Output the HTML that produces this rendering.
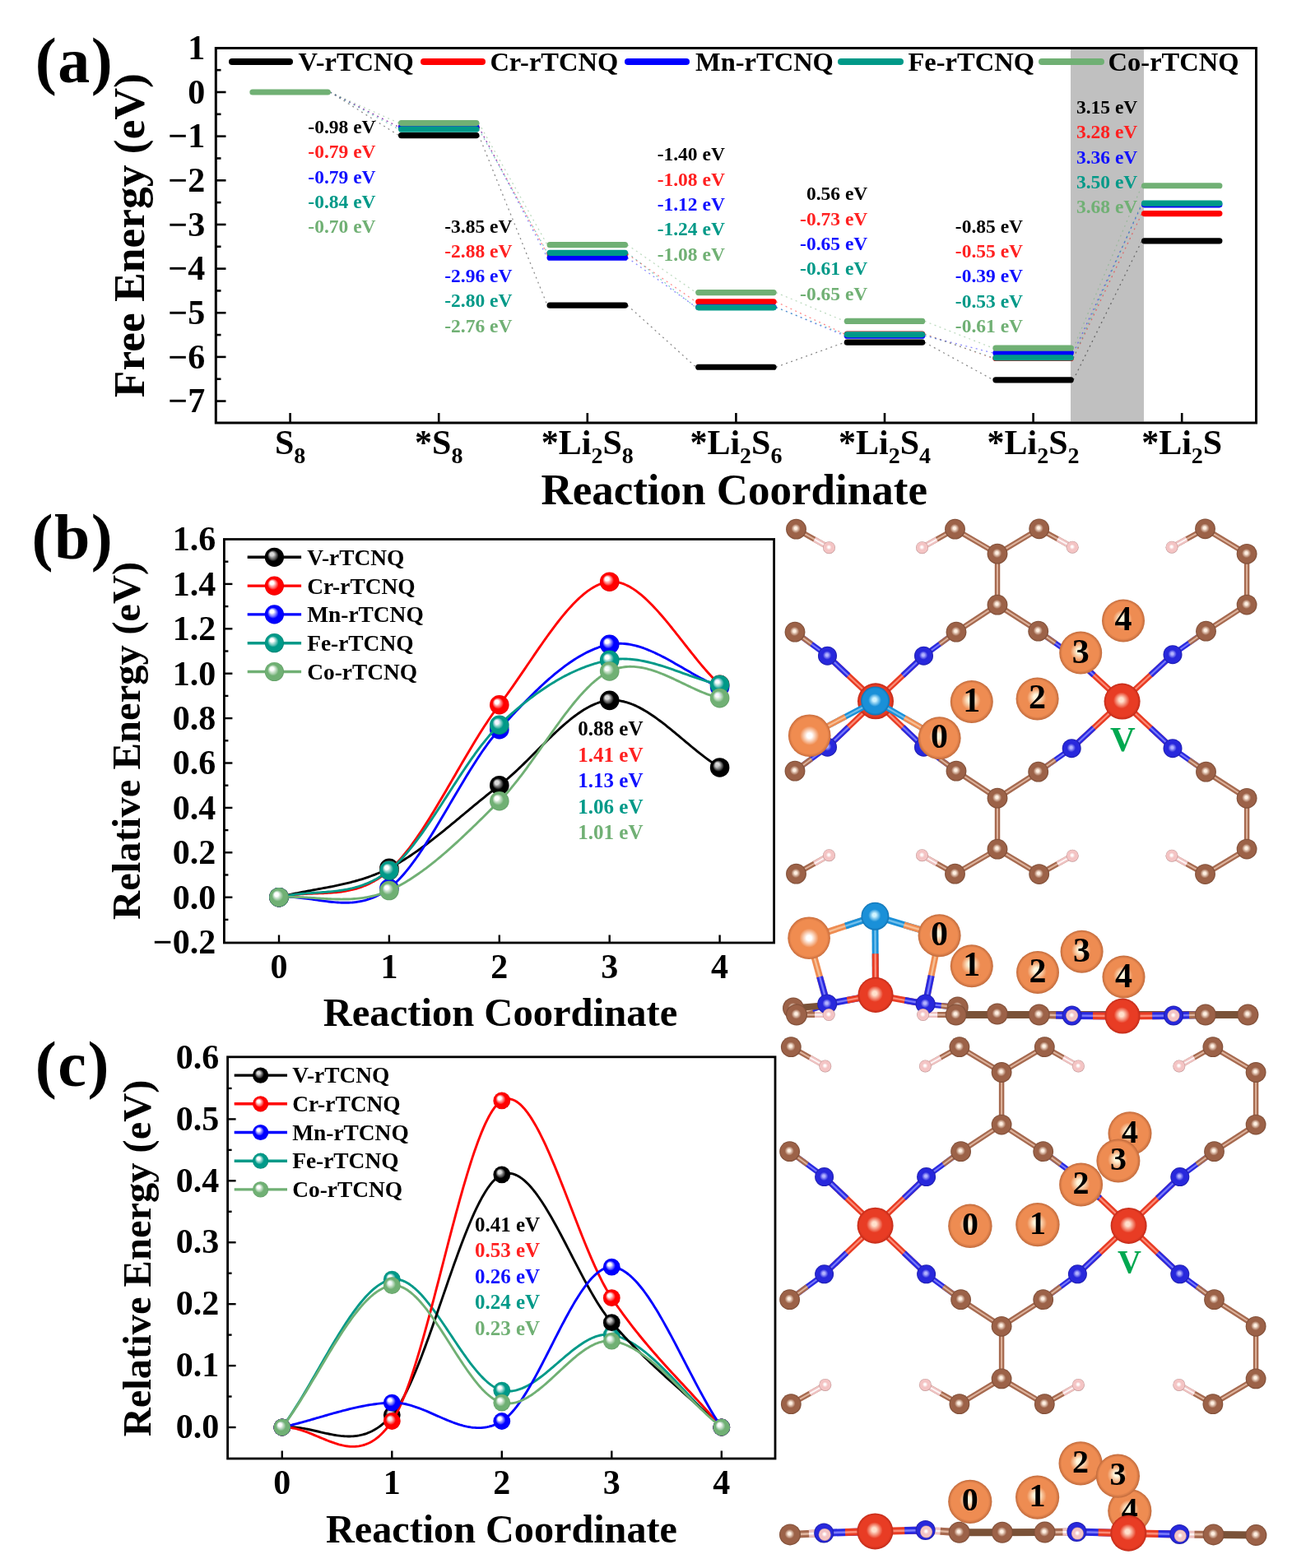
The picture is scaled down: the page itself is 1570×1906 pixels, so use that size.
<!DOCTYPE html><html><head><meta charset="utf-8"><title>Free energy profiles</title><style>html,body{margin:0;padding:0;background:#fff;overflow:hidden}svg{display:block}</style></head><body><svg width="1570" height="1906" viewBox="0 0 1570 1906" font-family="'Liberation Serif','Times New Roman',serif" font-weight="bold"><defs><radialGradient id="ok" cx="0.5" cy="0.5" r="0.5" fx="0.34" fy="0.32"><stop offset="0" stop-color="#d8d8d8"/><stop offset="0.2" stop-color="#d8d8d8" stop-opacity="0.92"/><stop offset="0.58" stop-color="#000000"/><stop offset="0.9" stop-color="#000000"/><stop offset="1" stop-color="#000000"/></radialGradient><radialGradient id="or" cx="0.5" cy="0.5" r="0.5" fx="0.34" fy="0.32"><stop offset="0" stop-color="#ffffff"/><stop offset="0.2" stop-color="#ffffff" stop-opacity="0.92"/><stop offset="0.58" stop-color="#ff0000"/><stop offset="0.9" stop-color="#ff0000"/><stop offset="1" stop-color="#e00000"/></radialGradient><radialGradient id="ob" cx="0.5" cy="0.5" r="0.5" fx="0.34" fy="0.32"><stop offset="0" stop-color="#ffffff"/><stop offset="0.2" stop-color="#ffffff" stop-opacity="0.92"/><stop offset="0.58" stop-color="#0000ff"/><stop offset="0.9" stop-color="#0000ff"/><stop offset="1" stop-color="#0000e0"/></radialGradient><radialGradient id="ot" cx="0.5" cy="0.5" r="0.5" fx="0.34" fy="0.32"><stop offset="0" stop-color="#ffffff"/><stop offset="0.2" stop-color="#ffffff" stop-opacity="0.92"/><stop offset="0.58" stop-color="#009988"/><stop offset="0.9" stop-color="#009988"/><stop offset="1" stop-color="#008070"/></radialGradient><radialGradient id="og" cx="0.5" cy="0.5" r="0.5" fx="0.34" fy="0.32"><stop offset="0" stop-color="#ffffff"/><stop offset="0.2" stop-color="#ffffff" stop-opacity="0.92"/><stop offset="0.58" stop-color="#70b074"/><stop offset="0.9" stop-color="#70b074"/><stop offset="1" stop-color="#609c64"/></radialGradient><radialGradient id="vC" cx="0.5" cy="0.5" r="0.5" fx="0.47" fy="0.45"><stop offset="0" stop-color="#fff0e2"/><stop offset="0.12" stop-color="#fff0e2"/><stop offset="0.45" stop-color="#9c6248"/><stop offset="0.85" stop-color="#9c6248"/><stop offset="1" stop-color="#7a4a34"/></radialGradient><radialGradient id="vN" cx="0.5" cy="0.5" r="0.5" fx="0.47" fy="0.45"><stop offset="0" stop-color="#b4b4ff"/><stop offset="0.12" stop-color="#b4b4ff"/><stop offset="0.45" stop-color="#2828dc"/><stop offset="0.85" stop-color="#2828dc"/><stop offset="1" stop-color="#1c1ca8"/></radialGradient><radialGradient id="vH" cx="0.5" cy="0.5" r="0.5" fx="0.47" fy="0.45"><stop offset="0" stop-color="#ffffff"/><stop offset="0.12" stop-color="#ffffff"/><stop offset="0.45" stop-color="#f4c4c4"/><stop offset="0.85" stop-color="#f4c4c4"/><stop offset="1" stop-color="#b98c8c"/></radialGradient><radialGradient id="vM" cx="0.5" cy="0.5" r="0.5" fx="0.47" fy="0.45"><stop offset="0" stop-color="#ffe0cc"/><stop offset="0.12" stop-color="#ffe0cc"/><stop offset="0.45" stop-color="#e83c24"/><stop offset="0.85" stop-color="#e83c24"/><stop offset="1" stop-color="#c02a18"/></radialGradient><radialGradient id="vL" cx="0.5" cy="0.5" r="0.5" fx="0.47" fy="0.45"><stop offset="0" stop-color="#d0f4ff"/><stop offset="0.12" stop-color="#d0f4ff"/><stop offset="0.45" stop-color="#1a90d8"/><stop offset="0.85" stop-color="#1a90d8"/><stop offset="1" stop-color="#1070b0"/></radialGradient><radialGradient id="vO" cx="0.5" cy="0.5" r="0.5" fx="0.47" fy="0.45"><stop offset="0" stop-color="#fff6dc"/><stop offset="0.12" stop-color="#fff6dc"/><stop offset="0.45" stop-color="#ee8c52"/><stop offset="0.85" stop-color="#ee8c52"/><stop offset="1" stop-color="#c06a3c"/></radialGradient><radialGradient id="vS" cx="0.5" cy="0.5" r="0.5" fx="0.5" fy="0.5"><stop offset="0" stop-color="#ffffff"/><stop offset="0.12" stop-color="#ffffff"/><stop offset="0.45" stop-color="#f08c50"/><stop offset="0.85" stop-color="#f08c50"/><stop offset="1" stop-color="#c86c3c"/></radialGradient></defs><rect width="1570" height="1906" fill="#ffffff"/><rect x="1301" y="60" width="89" height="452.5" fill="#c0c0c0"/>
<rect x="262.3" y="58.5" width="1264.2" height="455.5" fill="none" stroke="#000" stroke-width="3"/>
<line x1="262.3" y1="85.17" x2="268.5" y2="85.17" stroke="#000" stroke-width="2.6"/>
<text x="249.2" y="71.95" font-size="42" fill="#000" text-anchor="end">1</text>
<line x1="262.3" y1="112" x2="274.5" y2="112" stroke="#000" stroke-width="2.6"/>
<line x1="262.3" y1="138.82" x2="268.5" y2="138.82" stroke="#000" stroke-width="2.6"/>
<text x="249.2" y="125.6" font-size="42" fill="#000" text-anchor="end">0</text>
<line x1="262.3" y1="165.65" x2="274.5" y2="165.65" stroke="#000" stroke-width="2.6"/>
<line x1="262.3" y1="192.47" x2="268.5" y2="192.47" stroke="#000" stroke-width="2.6"/>
<text x="249.2" y="179.25" font-size="42" fill="#000" text-anchor="end">−1</text>
<line x1="262.3" y1="219.3" x2="274.5" y2="219.3" stroke="#000" stroke-width="2.6"/>
<line x1="262.3" y1="246.12" x2="268.5" y2="246.12" stroke="#000" stroke-width="2.6"/>
<text x="249.2" y="232.9" font-size="42" fill="#000" text-anchor="end">−2</text>
<line x1="262.3" y1="272.95" x2="274.5" y2="272.95" stroke="#000" stroke-width="2.6"/>
<line x1="262.3" y1="299.77" x2="268.5" y2="299.77" stroke="#000" stroke-width="2.6"/>
<text x="249.2" y="286.55" font-size="42" fill="#000" text-anchor="end">−3</text>
<line x1="262.3" y1="326.6" x2="274.5" y2="326.6" stroke="#000" stroke-width="2.6"/>
<line x1="262.3" y1="353.42" x2="268.5" y2="353.42" stroke="#000" stroke-width="2.6"/>
<text x="249.2" y="340.2" font-size="42" fill="#000" text-anchor="end">−4</text>
<line x1="262.3" y1="380.25" x2="274.5" y2="380.25" stroke="#000" stroke-width="2.6"/>
<line x1="262.3" y1="407.07" x2="268.5" y2="407.07" stroke="#000" stroke-width="2.6"/>
<text x="249.2" y="393.85" font-size="42" fill="#000" text-anchor="end">−5</text>
<line x1="262.3" y1="433.9" x2="274.5" y2="433.9" stroke="#000" stroke-width="2.6"/>
<line x1="262.3" y1="460.72" x2="268.5" y2="460.72" stroke="#000" stroke-width="2.6"/>
<text x="249.2" y="447.5" font-size="42" fill="#000" text-anchor="end">−6</text>
<line x1="262.3" y1="487.55" x2="274.5" y2="487.55" stroke="#000" stroke-width="2.6"/>
<text x="249.2" y="501.15" font-size="42" fill="#000" text-anchor="end">−7</text>
<line x1="352.6" y1="514" x2="352.6" y2="502" stroke="#000" stroke-width="2.6"/>
<line x1="533.2" y1="514" x2="533.2" y2="502" stroke="#000" stroke-width="2.6"/>
<line x1="713.8" y1="514" x2="713.8" y2="502" stroke="#000" stroke-width="2.6"/>
<line x1="894.4" y1="514" x2="894.4" y2="502" stroke="#000" stroke-width="2.6"/>
<line x1="1075" y1="514" x2="1075" y2="502" stroke="#000" stroke-width="2.6"/>
<line x1="1255.6" y1="514" x2="1255.6" y2="502" stroke="#000" stroke-width="2.6"/>
<line x1="1436.2" y1="514" x2="1436.2" y2="502" stroke="#000" stroke-width="2.6"/>
<text x="352.6" y="552" font-size="42" text-anchor="middle"><tspan>S</tspan><tspan font-size="28" dy="10.5">8</tspan></text>
<text x="533.2" y="552" font-size="42" text-anchor="middle"><tspan>*S</tspan><tspan font-size="28" dy="10.5">8</tspan></text>
<text x="713.8" y="552" font-size="42" text-anchor="middle"><tspan>*Li</tspan><tspan font-size="28" dy="10.5">2</tspan><tspan dy="-10.5">S</tspan><tspan font-size="28" dy="10.5">8</tspan></text>
<text x="894.4" y="552" font-size="42" text-anchor="middle"><tspan>*Li</tspan><tspan font-size="28" dy="10.5">2</tspan><tspan dy="-10.5">S</tspan><tspan font-size="28" dy="10.5">6</tspan></text>
<text x="1075" y="552" font-size="42" text-anchor="middle"><tspan>*Li</tspan><tspan font-size="28" dy="10.5">2</tspan><tspan dy="-10.5">S</tspan><tspan font-size="28" dy="10.5">4</tspan></text>
<text x="1255.6" y="552" font-size="42" text-anchor="middle"><tspan>*Li</tspan><tspan font-size="28" dy="10.5">2</tspan><tspan dy="-10.5">S</tspan><tspan font-size="28" dy="10.5">2</tspan></text>
<text x="1436.2" y="552" font-size="42" text-anchor="middle"><tspan>*Li</tspan><tspan font-size="28" dy="10.5">2</tspan><tspan dy="-10.5">S</tspan></text>
<text x="657.4" y="612.5" font-size="53" fill="#000" text-anchor="start">Reaction Coordinate</text>
<text transform="translate(175.3,483.3) rotate(-90)" x="0" y="0" font-size="53.5">Free Energy (eV)</text>
<text x="42.8" y="100.3" font-size="78" fill="#000" text-anchor="start" letter-spacing="1.5">(a)</text>
<line x1="401.25" y1="112" x2="484.55" y2="164.58" stroke="#000000" stroke-width="1.3" stroke-dasharray="2 4.4" opacity="0.45"/>
<line x1="581.85" y1="164.58" x2="665.15" y2="371.13" stroke="#000000" stroke-width="1.3" stroke-dasharray="2 4.4" opacity="0.45"/>
<line x1="762.45" y1="371.13" x2="845.75" y2="446.24" stroke="#000000" stroke-width="1.3" stroke-dasharray="2 4.4" opacity="0.45"/>
<line x1="943.05" y1="446.24" x2="1026.35" y2="416.2" stroke="#000000" stroke-width="1.3" stroke-dasharray="2 4.4" opacity="0.45"/>
<line x1="1123.65" y1="416.2" x2="1206.95" y2="461.8" stroke="#000000" stroke-width="1.3" stroke-dasharray="2 4.4" opacity="0.45"/>
<line x1="1304.25" y1="461.8" x2="1387.55" y2="292.8" stroke="#000000" stroke-width="1.3" stroke-dasharray="2 4.4" opacity="0.45"/>
<line x1="401.25" y1="112" x2="484.55" y2="154.38" stroke="#ff0000" stroke-width="1.3" stroke-dasharray="2 4.4" opacity="0.45"/>
<line x1="581.85" y1="154.38" x2="665.15" y2="308.9" stroke="#ff0000" stroke-width="1.3" stroke-dasharray="2 4.4" opacity="0.45"/>
<line x1="762.45" y1="308.9" x2="845.75" y2="366.84" stroke="#ff0000" stroke-width="1.3" stroke-dasharray="2 4.4" opacity="0.45"/>
<line x1="943.05" y1="366.84" x2="1026.35" y2="406" stroke="#ff0000" stroke-width="1.3" stroke-dasharray="2 4.4" opacity="0.45"/>
<line x1="1123.65" y1="406" x2="1206.95" y2="435.51" stroke="#ff0000" stroke-width="1.3" stroke-dasharray="2 4.4" opacity="0.45"/>
<line x1="1304.25" y1="435.51" x2="1387.55" y2="259.54" stroke="#ff0000" stroke-width="1.3" stroke-dasharray="2 4.4" opacity="0.45"/>
<line x1="401.25" y1="112" x2="484.55" y2="154.38" stroke="#0000ff" stroke-width="1.3" stroke-dasharray="2 4.4" opacity="0.45"/>
<line x1="581.85" y1="154.38" x2="665.15" y2="313.19" stroke="#0000ff" stroke-width="1.3" stroke-dasharray="2 4.4" opacity="0.45"/>
<line x1="762.45" y1="313.19" x2="845.75" y2="373.28" stroke="#0000ff" stroke-width="1.3" stroke-dasharray="2 4.4" opacity="0.45"/>
<line x1="943.05" y1="373.28" x2="1026.35" y2="408.15" stroke="#0000ff" stroke-width="1.3" stroke-dasharray="2 4.4" opacity="0.45"/>
<line x1="1123.65" y1="408.15" x2="1206.95" y2="429.07" stroke="#0000ff" stroke-width="1.3" stroke-dasharray="2 4.4" opacity="0.45"/>
<line x1="1304.25" y1="429.07" x2="1387.55" y2="248.81" stroke="#0000ff" stroke-width="1.3" stroke-dasharray="2 4.4" opacity="0.45"/>
<line x1="401.25" y1="112" x2="484.55" y2="157.07" stroke="#009988" stroke-width="1.3" stroke-dasharray="2 4.4" opacity="0.45"/>
<line x1="581.85" y1="157.07" x2="665.15" y2="307.29" stroke="#009988" stroke-width="1.3" stroke-dasharray="2 4.4" opacity="0.45"/>
<line x1="762.45" y1="307.29" x2="845.75" y2="373.81" stroke="#009988" stroke-width="1.3" stroke-dasharray="2 4.4" opacity="0.45"/>
<line x1="943.05" y1="373.81" x2="1026.35" y2="406.54" stroke="#009988" stroke-width="1.3" stroke-dasharray="2 4.4" opacity="0.45"/>
<line x1="1123.65" y1="406.54" x2="1206.95" y2="434.97" stroke="#009988" stroke-width="1.3" stroke-dasharray="2 4.4" opacity="0.45"/>
<line x1="1304.25" y1="434.97" x2="1387.55" y2="247.2" stroke="#009988" stroke-width="1.3" stroke-dasharray="2 4.4" opacity="0.45"/>
<line x1="401.25" y1="112" x2="484.55" y2="149.56" stroke="#70b074" stroke-width="1.3" stroke-dasharray="2 4.4" opacity="0.45"/>
<line x1="581.85" y1="149.56" x2="665.15" y2="297.63" stroke="#70b074" stroke-width="1.3" stroke-dasharray="2 4.4" opacity="0.45"/>
<line x1="762.45" y1="297.63" x2="845.75" y2="355.57" stroke="#70b074" stroke-width="1.3" stroke-dasharray="2 4.4" opacity="0.45"/>
<line x1="943.05" y1="355.57" x2="1026.35" y2="390.44" stroke="#70b074" stroke-width="1.3" stroke-dasharray="2 4.4" opacity="0.45"/>
<line x1="1123.65" y1="390.44" x2="1206.95" y2="423.17" stroke="#70b074" stroke-width="1.3" stroke-dasharray="2 4.4" opacity="0.45"/>
<line x1="1304.25" y1="423.17" x2="1387.55" y2="225.74" stroke="#70b074" stroke-width="1.3" stroke-dasharray="2 4.4" opacity="0.45"/>
<line x1="487.55" y1="164.58" x2="578.85" y2="164.58" stroke="#000000" stroke-width="7.2" stroke-linecap="round"/>
<line x1="668.15" y1="371.13" x2="759.45" y2="371.13" stroke="#000000" stroke-width="7.2" stroke-linecap="round"/>
<line x1="848.75" y1="446.24" x2="940.05" y2="446.24" stroke="#000000" stroke-width="7.2" stroke-linecap="round"/>
<line x1="1029.35" y1="416.2" x2="1120.65" y2="416.2" stroke="#000000" stroke-width="7.2" stroke-linecap="round"/>
<line x1="1209.95" y1="461.8" x2="1301.25" y2="461.8" stroke="#000000" stroke-width="7.2" stroke-linecap="round"/>
<line x1="1390.55" y1="292.8" x2="1481.85" y2="292.8" stroke="#000000" stroke-width="7.2" stroke-linecap="round"/>
<line x1="487.55" y1="154.38" x2="578.85" y2="154.38" stroke="#ff0000" stroke-width="7.2" stroke-linecap="round"/>
<line x1="668.15" y1="308.9" x2="759.45" y2="308.9" stroke="#ff0000" stroke-width="7.2" stroke-linecap="round"/>
<line x1="848.75" y1="366.84" x2="940.05" y2="366.84" stroke="#ff0000" stroke-width="7.2" stroke-linecap="round"/>
<line x1="1029.35" y1="406" x2="1120.65" y2="406" stroke="#ff0000" stroke-width="7.2" stroke-linecap="round"/>
<line x1="1209.95" y1="435.51" x2="1301.25" y2="435.51" stroke="#ff0000" stroke-width="7.2" stroke-linecap="round"/>
<line x1="1390.55" y1="259.54" x2="1481.85" y2="259.54" stroke="#ff0000" stroke-width="7.2" stroke-linecap="round"/>
<line x1="487.55" y1="154.38" x2="578.85" y2="154.38" stroke="#0000ff" stroke-width="7.2" stroke-linecap="round"/>
<line x1="668.15" y1="313.19" x2="759.45" y2="313.19" stroke="#0000ff" stroke-width="7.2" stroke-linecap="round"/>
<line x1="848.75" y1="373.28" x2="940.05" y2="373.28" stroke="#0000ff" stroke-width="7.2" stroke-linecap="round"/>
<line x1="1029.35" y1="408.15" x2="1120.65" y2="408.15" stroke="#0000ff" stroke-width="7.2" stroke-linecap="round"/>
<line x1="1209.95" y1="429.07" x2="1301.25" y2="429.07" stroke="#0000ff" stroke-width="7.2" stroke-linecap="round"/>
<line x1="1390.55" y1="248.81" x2="1481.85" y2="248.81" stroke="#0000ff" stroke-width="7.2" stroke-linecap="round"/>
<line x1="487.55" y1="157.07" x2="578.85" y2="157.07" stroke="#009988" stroke-width="7.2" stroke-linecap="round"/>
<line x1="668.15" y1="307.29" x2="759.45" y2="307.29" stroke="#009988" stroke-width="7.2" stroke-linecap="round"/>
<line x1="848.75" y1="373.81" x2="940.05" y2="373.81" stroke="#009988" stroke-width="7.2" stroke-linecap="round"/>
<line x1="1029.35" y1="406.54" x2="1120.65" y2="406.54" stroke="#009988" stroke-width="7.2" stroke-linecap="round"/>
<line x1="1209.95" y1="434.97" x2="1301.25" y2="434.97" stroke="#009988" stroke-width="7.2" stroke-linecap="round"/>
<line x1="1390.55" y1="247.2" x2="1481.85" y2="247.2" stroke="#009988" stroke-width="7.2" stroke-linecap="round"/>
<line x1="306.95" y1="112" x2="398.25" y2="112" stroke="#70b074" stroke-width="7.2" stroke-linecap="round"/>
<line x1="487.55" y1="149.56" x2="578.85" y2="149.56" stroke="#70b074" stroke-width="7.2" stroke-linecap="round"/>
<line x1="668.15" y1="297.63" x2="759.45" y2="297.63" stroke="#70b074" stroke-width="7.2" stroke-linecap="round"/>
<line x1="848.75" y1="355.57" x2="940.05" y2="355.57" stroke="#70b074" stroke-width="7.2" stroke-linecap="round"/>
<line x1="1029.35" y1="390.44" x2="1120.65" y2="390.44" stroke="#70b074" stroke-width="7.2" stroke-linecap="round"/>
<line x1="1209.95" y1="423.17" x2="1301.25" y2="423.17" stroke="#70b074" stroke-width="7.2" stroke-linecap="round"/>
<line x1="1390.55" y1="225.74" x2="1481.85" y2="225.74" stroke="#70b074" stroke-width="7.2" stroke-linecap="round"/>
<line x1="282" y1="75" x2="352" y2="75" stroke="#000000" stroke-width="8" stroke-linecap="round"/>
<text x="362.6" y="86.4" font-size="32.5" fill="#000" text-anchor="start">V-rTCNQ</text>
<line x1="515" y1="75" x2="586" y2="75" stroke="#ff0000" stroke-width="8" stroke-linecap="round"/>
<text x="595.4" y="86.4" font-size="32.5" fill="#000" text-anchor="start">Cr-rTCNQ</text>
<line x1="763" y1="75" x2="834" y2="75" stroke="#0000ff" stroke-width="8" stroke-linecap="round"/>
<text x="845" y="86.4" font-size="32.5" fill="#000" text-anchor="start">Mn-rTCNQ</text>
<line x1="1022" y1="75" x2="1094" y2="75" stroke="#009988" stroke-width="8" stroke-linecap="round"/>
<text x="1103.5" y="86.4" font-size="32.5" fill="#000" text-anchor="start">Fe-rTCNQ</text>
<line x1="1266" y1="75" x2="1338" y2="75" stroke="#70b074" stroke-width="8" stroke-linecap="round"/>
<text x="1346.6" y="86.4" font-size="32.5" fill="#000" text-anchor="start">Co-rTCNQ</text>
<text x="456.6" y="162.1" font-size="23.5" fill="#000000" text-anchor="end">-0.98 eV</text>
<text x="456.6" y="192.4" font-size="23.5" fill="#ff2020" text-anchor="end">-0.79 eV</text>
<text x="456.6" y="222.7" font-size="23.5" fill="#1010ff" text-anchor="end">-0.79 eV</text>
<text x="456.6" y="253" font-size="23.5" fill="#009988" text-anchor="end">-0.84 eV</text>
<text x="456.6" y="283.3" font-size="23.5" fill="#70b074" text-anchor="end">-0.70 eV</text>
<text x="622.5" y="282.5" font-size="23.5" fill="#000000" text-anchor="end">-3.85 eV</text>
<text x="622.5" y="312.8" font-size="23.5" fill="#ff2020" text-anchor="end">-2.88 eV</text>
<text x="622.5" y="343.1" font-size="23.5" fill="#1010ff" text-anchor="end">-2.96 eV</text>
<text x="622.5" y="373.4" font-size="23.5" fill="#009988" text-anchor="end">-2.80 eV</text>
<text x="622.5" y="403.7" font-size="23.5" fill="#70b074" text-anchor="end">-2.76 eV</text>
<text x="880.9" y="195.4" font-size="23.5" fill="#000000" text-anchor="end">-1.40 eV</text>
<text x="880.9" y="225.7" font-size="23.5" fill="#ff2020" text-anchor="end">-1.08 eV</text>
<text x="880.9" y="256" font-size="23.5" fill="#1010ff" text-anchor="end">-1.12 eV</text>
<text x="880.9" y="286.3" font-size="23.5" fill="#009988" text-anchor="end">-1.24 eV</text>
<text x="880.9" y="316.6" font-size="23.5" fill="#70b074" text-anchor="end">-1.08 eV</text>
<text x="1054.3" y="243.4" font-size="23.5" fill="#000000" text-anchor="end">0.56 eV</text>
<text x="1054.3" y="273.7" font-size="23.5" fill="#ff2020" text-anchor="end">-0.73 eV</text>
<text x="1054.3" y="304" font-size="23.5" fill="#1010ff" text-anchor="end">-0.65 eV</text>
<text x="1054.3" y="334.3" font-size="23.5" fill="#009988" text-anchor="end">-0.61 eV</text>
<text x="1054.3" y="364.6" font-size="23.5" fill="#70b074" text-anchor="end">-0.65 eV</text>
<text x="1243.1" y="282.6" font-size="23.5" fill="#000000" text-anchor="end">-0.85 eV</text>
<text x="1243.1" y="312.9" font-size="23.5" fill="#ff2020" text-anchor="end">-0.55 eV</text>
<text x="1243.1" y="343.2" font-size="23.5" fill="#1010ff" text-anchor="end">-0.39 eV</text>
<text x="1243.1" y="373.5" font-size="23.5" fill="#009988" text-anchor="end">-0.53 eV</text>
<text x="1243.1" y="403.8" font-size="23.5" fill="#70b074" text-anchor="end">-0.61 eV</text>
<text x="1382.3" y="138" font-size="23.5" fill="#000000" text-anchor="end">3.15 eV</text>
<text x="1382.3" y="168.3" font-size="23.5" fill="#ff2020" text-anchor="end">3.28 eV</text>
<text x="1382.3" y="198.6" font-size="23.5" fill="#1010ff" text-anchor="end">3.36 eV</text>
<text x="1382.3" y="228.9" font-size="23.5" fill="#009988" text-anchor="end">3.50 eV</text>
<text x="1382.3" y="259.2" font-size="23.5" fill="#70b074" text-anchor="end">3.68 eV</text>
<rect x="272.4" y="655.5" width="668.2" height="490.5" fill="none" stroke="#000" stroke-width="2.8"/>
<text x="262.2" y="669.3" font-size="42" fill="#000" text-anchor="end">1.6</text>
<line x1="272.4" y1="682.7" x2="277.4" y2="682.7" stroke="#000" stroke-width="2.4"/>
<line x1="272.4" y1="709.9" x2="282.4" y2="709.9" stroke="#000" stroke-width="2.4"/>
<text x="262.2" y="723.7" font-size="42" fill="#000" text-anchor="end">1.4</text>
<line x1="272.4" y1="737.1" x2="277.4" y2="737.1" stroke="#000" stroke-width="2.4"/>
<line x1="272.4" y1="764.3" x2="282.4" y2="764.3" stroke="#000" stroke-width="2.4"/>
<text x="262.2" y="778.1" font-size="42" fill="#000" text-anchor="end">1.2</text>
<line x1="272.4" y1="791.5" x2="277.4" y2="791.5" stroke="#000" stroke-width="2.4"/>
<line x1="272.4" y1="818.7" x2="282.4" y2="818.7" stroke="#000" stroke-width="2.4"/>
<text x="262.2" y="832.5" font-size="42" fill="#000" text-anchor="end">1.0</text>
<line x1="272.4" y1="845.9" x2="277.4" y2="845.9" stroke="#000" stroke-width="2.4"/>
<line x1="272.4" y1="873.1" x2="282.4" y2="873.1" stroke="#000" stroke-width="2.4"/>
<text x="262.2" y="886.9" font-size="42" fill="#000" text-anchor="end">0.8</text>
<line x1="272.4" y1="900.3" x2="277.4" y2="900.3" stroke="#000" stroke-width="2.4"/>
<line x1="272.4" y1="927.5" x2="282.4" y2="927.5" stroke="#000" stroke-width="2.4"/>
<text x="262.2" y="941.3" font-size="42" fill="#000" text-anchor="end">0.6</text>
<line x1="272.4" y1="954.7" x2="277.4" y2="954.7" stroke="#000" stroke-width="2.4"/>
<line x1="272.4" y1="981.9" x2="282.4" y2="981.9" stroke="#000" stroke-width="2.4"/>
<text x="262.2" y="995.7" font-size="42" fill="#000" text-anchor="end">0.4</text>
<line x1="272.4" y1="1009.1" x2="277.4" y2="1009.1" stroke="#000" stroke-width="2.4"/>
<line x1="272.4" y1="1036.3" x2="282.4" y2="1036.3" stroke="#000" stroke-width="2.4"/>
<text x="262.2" y="1050.1" font-size="42" fill="#000" text-anchor="end">0.2</text>
<line x1="272.4" y1="1063.5" x2="277.4" y2="1063.5" stroke="#000" stroke-width="2.4"/>
<line x1="272.4" y1="1090.7" x2="282.4" y2="1090.7" stroke="#000" stroke-width="2.4"/>
<text x="262.2" y="1104.5" font-size="42" fill="#000" text-anchor="end">0.0</text>
<line x1="272.4" y1="1117.9" x2="277.4" y2="1117.9" stroke="#000" stroke-width="2.4"/>
<text x="262.2" y="1158.9" font-size="42" fill="#000" text-anchor="end">−0.2</text>
<line x1="339" y1="1146" x2="339" y2="1136.5" stroke="#000" stroke-width="2.4"/>
<text x="339" y="1189.3" font-size="42" fill="#000" text-anchor="middle">0</text>
<line x1="472.9" y1="1146" x2="472.9" y2="1136.5" stroke="#000" stroke-width="2.4"/>
<text x="472.9" y="1189.3" font-size="42" fill="#000" text-anchor="middle">1</text>
<line x1="606.8" y1="1146" x2="606.8" y2="1136.5" stroke="#000" stroke-width="2.4"/>
<text x="606.8" y="1189.3" font-size="42" fill="#000" text-anchor="middle">2</text>
<line x1="740.7" y1="1146" x2="740.7" y2="1136.5" stroke="#000" stroke-width="2.4"/>
<text x="740.7" y="1189.3" font-size="42" fill="#000" text-anchor="middle">3</text>
<line x1="874.6" y1="1146" x2="874.6" y2="1136.5" stroke="#000" stroke-width="2.4"/>
<text x="874.6" y="1189.3" font-size="42" fill="#000" text-anchor="middle">4</text>
<text x="392.7" y="1246.6" font-size="48.6" fill="#000" text-anchor="start">Reaction Coordinate</text>
<text transform="translate(170.4,1118) rotate(-90)" x="0" y="0" font-size="48.7">Relative Energy (eV)</text>
<text x="38.5" y="678.5" font-size="78" fill="#000" text-anchor="start" letter-spacing="1.5">(b)</text>
<path d="M339,1090.7 L341.23,1090.12 L343.46,1089.56 L345.69,1089.01 L347.93,1088.48 L350.16,1087.96 L352.39,1087.46 L354.62,1086.97 L356.85,1086.49 L359.08,1086.02 L361.32,1085.56 L363.55,1085.11 L365.78,1084.67 L368.01,1084.24 L370.24,1083.81 L372.48,1083.39 L374.71,1082.97 L376.94,1082.56 L379.17,1082.15 L381.4,1081.74 L383.63,1081.33 L385.87,1080.92 L388.1,1080.51 L390.33,1080.1 L392.56,1079.69 L394.79,1079.27 L397.02,1078.85 L399.25,1078.42 L401.49,1077.99 L403.72,1077.55 L405.95,1077.1 L408.18,1076.64 L410.41,1076.17 L412.64,1075.7 L414.88,1075.2 L417.11,1074.7 L419.34,1074.18 L421.57,1073.65 L423.8,1073.11 L426.03,1072.54 L428.27,1071.96 L430.5,1071.36 L432.73,1070.75 L434.96,1070.11 L437.19,1069.45 L439.42,1068.77 L441.66,1068.07 L443.89,1067.34 L446.12,1066.59 L448.35,1065.81 L450.58,1065.01 L452.81,1064.18 L455.05,1063.32 L457.28,1062.44 L459.51,1061.52 L461.74,1060.57 L463.97,1059.59 L466.2,1058.58 L468.44,1057.54 L470.67,1056.46 L472.9,1055.34 L475.13,1054.19 L477.36,1053 L479.59,1051.78 L481.83,1050.53 L484.06,1049.25 L486.29,1047.93 L488.52,1046.59 L490.75,1045.21 L492.98,1043.81 L495.22,1042.38 L497.45,1040.92 L499.68,1039.43 L501.91,1037.92 L504.14,1036.39 L506.38,1034.83 L508.61,1033.25 L510.84,1031.65 L513.07,1030.03 L515.3,1028.39 L517.53,1026.73 L519.76,1025.05 L522,1023.35 L524.23,1021.64 L526.46,1019.91 L528.69,1018.17 L530.92,1016.42 L533.15,1014.65 L535.39,1012.87 L537.62,1011.07 L539.85,1009.27 L542.08,1007.46 L544.31,1005.64 L546.54,1003.81 L548.78,1001.97 L551.01,1000.13 L553.24,998.29 L555.47,996.43 L557.7,994.58 L559.93,992.72 L562.17,990.87 L564.4,989.01 L566.63,987.15 L568.86,985.29 L571.09,983.43 L573.32,981.58 L575.56,979.73 L577.79,977.89 L580.02,976.05 L582.25,974.21 L584.48,972.39 L586.71,970.57 L588.95,968.76 L591.18,966.96 L593.41,965.17 L595.64,963.39 L597.87,961.62 L600.1,959.87 L602.34,958.13 L604.57,956.41 L606.8,954.7 L609.03,952.97 L611.26,951.2 L613.5,949.37 L615.73,947.5 L617.96,945.59 L620.19,943.64 L622.42,941.65 L624.65,939.63 L626.88,937.57 L629.12,935.49 L631.35,933.38 L633.58,931.24 L635.81,929.09 L638.04,926.91 L640.27,924.72 L642.51,922.51 L644.74,920.29 L646.97,918.07 L649.2,915.83 L651.43,913.6 L653.66,911.36 L655.9,909.13 L658.13,906.9 L660.36,904.67 L662.59,902.46 L664.82,900.26 L667.05,898.07 L669.29,895.9 L671.52,893.76 L673.75,891.63 L675.98,889.53 L678.21,887.46 L680.45,885.41 L682.68,883.41 L684.91,881.43 L687.14,879.5 L689.37,877.6 L691.6,875.75 L693.84,873.95 L696.07,872.19 L698.3,870.49 L700.53,868.84 L702.76,867.25 L704.99,865.71 L707.23,864.24 L709.46,862.83 L711.69,861.49 L713.92,860.22 L716.15,859.02 L718.38,857.89 L720.62,856.85 L722.85,855.88 L725.08,855 L727.31,854.2 L729.54,853.49 L731.77,852.87 L734,852.34 L736.24,851.91 L738.47,851.57 L740.7,851.34 L742.97,851.21 L745.24,851.18 L747.51,851.25 L749.78,851.42 L752.05,851.69 L754.32,852.05 L756.59,852.5 L758.86,853.03 L761.13,853.66 L763.39,854.36 L765.66,855.14 L767.93,856 L770.2,856.93 L772.47,857.94 L774.74,859.01 L777.01,860.15 L779.28,861.35 L781.55,862.61 L783.82,863.93 L786.09,865.3 L788.36,866.73 L790.63,868.21 L792.9,869.73 L795.17,871.29 L797.44,872.9 L799.71,874.55 L801.98,876.23 L804.25,877.95 L806.52,879.7 L808.78,881.47 L811.05,883.27 L813.32,885.09 L815.59,886.94 L817.86,888.8 L820.13,890.67 L822.4,892.55 L824.67,894.45 L826.94,896.35 L829.21,898.25 L831.48,900.16 L833.75,902.06 L836.02,903.96 L838.29,905.85 L840.56,907.74 L842.83,909.61 L845.1,911.46 L847.37,913.3 L849.64,915.11 L851.91,916.9 L854.17,918.67 L856.44,920.41 L858.71,922.11 L860.98,923.78 L863.25,925.42 L865.52,927.01 L867.79,928.56 L870.06,930.07 L872.33,931.53 L874.6,932.94" fill="none" stroke="#000000" stroke-width="2.9" stroke-linejoin="round"/>
<circle cx="339" cy="1090.7" r="11.8" fill="url(#ok)"/>
<circle cx="472.9" cy="1055.34" r="11.8" fill="url(#ok)"/>
<circle cx="606.8" cy="954.7" r="11.8" fill="url(#ok)"/>
<circle cx="740.7" cy="851.34" r="11.8" fill="url(#ok)"/>
<circle cx="874.6" cy="932.94" r="11.8" fill="url(#ok)"/>
<path d="M339,1090.7 L341.23,1090.18 L343.46,1089.7 L345.69,1089.27 L347.93,1088.87 L350.16,1088.52 L352.39,1088.19 L354.62,1087.91 L356.85,1087.65 L359.08,1087.42 L361.32,1087.21 L363.55,1087.03 L365.78,1086.87 L368.01,1086.73 L370.24,1086.6 L372.48,1086.49 L374.71,1086.39 L376.94,1086.3 L379.17,1086.22 L381.4,1086.14 L383.63,1086.07 L385.87,1085.99 L388.1,1085.91 L390.33,1085.83 L392.56,1085.74 L394.79,1085.64 L397.02,1085.53 L399.25,1085.4 L401.49,1085.26 L403.72,1085.1 L405.95,1084.92 L408.18,1084.72 L410.41,1084.48 L412.64,1084.23 L414.88,1083.94 L417.11,1083.62 L419.34,1083.26 L421.57,1082.86 L423.8,1082.43 L426.03,1081.95 L428.27,1081.43 L430.5,1080.86 L432.73,1080.25 L434.96,1079.58 L437.19,1078.86 L439.42,1078.08 L441.66,1077.24 L443.89,1076.34 L446.12,1075.38 L448.35,1074.35 L450.58,1073.26 L452.81,1072.09 L455.05,1070.86 L457.28,1069.54 L459.51,1068.15 L461.74,1066.68 L463.97,1065.13 L466.2,1063.5 L468.44,1061.77 L470.67,1059.96 L472.9,1058.06 L475.13,1056.06 L477.36,1053.95 L479.59,1051.74 L481.83,1049.43 L484.06,1047.03 L486.29,1044.53 L488.52,1041.94 L490.75,1039.27 L492.98,1036.51 L495.22,1033.67 L497.45,1030.76 L499.68,1027.77 L501.91,1024.71 L504.14,1021.58 L506.38,1018.39 L508.61,1015.13 L510.84,1011.81 L513.07,1008.44 L515.3,1005.02 L517.53,1001.54 L519.76,998.02 L522,994.46 L524.23,990.85 L526.46,987.21 L528.69,983.53 L530.92,979.82 L533.15,976.08 L535.39,972.32 L537.62,968.54 L539.85,964.73 L542.08,960.91 L544.31,957.07 L546.54,953.23 L548.78,949.38 L551.01,945.52 L553.24,941.67 L555.47,937.81 L557.7,933.96 L559.93,930.12 L562.17,926.29 L564.4,922.48 L566.63,918.68 L568.86,914.9 L571.09,911.15 L573.32,907.42 L575.56,903.72 L577.79,900.06 L580.02,896.43 L582.25,892.84 L584.48,889.29 L586.71,885.78 L588.95,882.33 L591.18,878.92 L593.41,875.57 L595.64,872.28 L597.87,869.05 L600.1,865.88 L602.34,862.78 L604.57,859.74 L606.8,856.78 L609.03,853.83 L611.26,850.84 L613.5,847.81 L615.73,844.74 L617.96,841.63 L620.19,838.49 L622.42,835.32 L624.65,832.13 L626.88,828.91 L629.12,825.68 L631.35,822.42 L633.58,819.16 L635.81,815.88 L638.04,812.6 L640.27,809.31 L642.51,806.02 L644.74,802.73 L646.97,799.45 L649.2,796.17 L651.43,792.91 L653.66,789.66 L655.9,786.43 L658.13,783.22 L660.36,780.03 L662.59,776.87 L664.82,773.74 L667.05,770.64 L669.29,767.58 L671.52,764.56 L673.75,761.58 L675.98,758.65 L678.21,755.76 L680.45,752.92 L682.68,750.14 L684.91,747.42 L687.14,744.76 L689.37,742.16 L691.6,739.63 L693.84,737.17 L696.07,734.78 L698.3,732.47 L700.53,730.24 L702.76,728.09 L704.99,726.03 L707.23,724.05 L709.46,722.17 L711.69,720.38 L713.92,718.69 L716.15,717.1 L718.38,715.62 L720.62,714.24 L722.85,712.97 L725.08,711.82 L727.31,710.78 L729.54,709.86 L731.77,709.07 L734,708.4 L736.24,707.86 L738.47,707.45 L740.7,707.18 L742.97,707.05 L745.24,707.08 L747.51,707.25 L749.78,707.57 L752.05,708.03 L754.32,708.63 L756.59,709.37 L758.86,710.23 L761.13,711.22 L763.39,712.33 L765.66,713.56 L767.93,714.9 L770.2,716.35 L772.47,717.91 L774.74,719.57 L777.01,721.32 L779.28,723.18 L781.55,725.12 L783.82,727.14 L786.09,729.25 L788.36,731.43 L790.63,733.69 L792.9,736.02 L795.17,738.41 L797.44,740.87 L799.71,743.38 L801.98,745.95 L804.25,748.56 L806.52,751.22 L808.78,753.93 L811.05,756.67 L813.32,759.44 L815.59,762.24 L817.86,765.07 L820.13,767.92 L822.4,770.79 L824.67,773.67 L826.94,776.56 L829.21,779.45 L831.48,782.35 L833.75,785.24 L836.02,788.13 L838.29,791.01 L840.56,793.87 L842.83,796.71 L845.1,799.53 L847.37,802.33 L849.64,805.09 L851.91,807.82 L854.17,810.51 L856.44,813.15 L858.71,815.75 L860.98,818.3 L863.25,820.79 L865.52,823.23 L867.79,825.6 L870.06,827.91 L872.33,830.14 L874.6,832.3" fill="none" stroke="#ff0000" stroke-width="2.9" stroke-linejoin="round"/>
<circle cx="339" cy="1090.7" r="11.8" fill="url(#or)"/>
<circle cx="472.9" cy="1058.06" r="11.8" fill="url(#or)"/>
<circle cx="606.8" cy="856.78" r="11.8" fill="url(#or)"/>
<circle cx="740.7" cy="707.18" r="11.8" fill="url(#or)"/>
<circle cx="874.6" cy="832.3" r="11.8" fill="url(#or)"/>
<path d="M339,1090.7 L341.23,1090.54 L343.46,1090.44 L345.69,1090.37 L347.93,1090.35 L350.16,1090.37 L352.39,1090.43 L354.62,1090.53 L356.85,1090.65 L359.08,1090.81 L361.32,1091 L363.55,1091.21 L365.78,1091.44 L368.01,1091.69 L370.24,1091.96 L372.48,1092.25 L374.71,1092.55 L376.94,1092.86 L379.17,1093.18 L381.4,1093.5 L383.63,1093.82 L385.87,1094.15 L388.1,1094.47 L390.33,1094.79 L392.56,1095.1 L394.79,1095.39 L397.02,1095.68 L399.25,1095.95 L401.49,1096.21 L403.72,1096.44 L405.95,1096.65 L408.18,1096.84 L410.41,1096.99 L412.64,1097.12 L414.88,1097.21 L417.11,1097.27 L419.34,1097.29 L421.57,1097.27 L423.8,1097.21 L426.03,1097.1 L428.27,1096.95 L430.5,1096.74 L432.73,1096.48 L434.96,1096.16 L437.19,1095.79 L439.42,1095.35 L441.66,1094.86 L443.89,1094.29 L446.12,1093.66 L448.35,1092.96 L450.58,1092.18 L452.81,1091.33 L455.05,1090.4 L457.28,1089.38 L459.51,1088.29 L461.74,1087.11 L463.97,1085.84 L466.2,1084.48 L468.44,1083.02 L470.67,1081.47 L472.9,1079.82 L475.13,1078.06 L477.36,1076.17 L479.59,1074.17 L481.83,1072.05 L484.06,1069.82 L486.29,1067.48 L488.52,1065.04 L490.75,1062.5 L492.98,1059.87 L495.22,1057.14 L497.45,1054.32 L499.68,1051.42 L501.91,1048.44 L504.14,1045.38 L506.38,1042.25 L508.61,1039.05 L510.84,1035.78 L513.07,1032.45 L515.3,1029.06 L517.53,1025.62 L519.76,1022.13 L522,1018.59 L524.23,1015.01 L526.46,1011.38 L528.69,1007.73 L530.92,1004.04 L533.15,1000.32 L535.39,996.58 L537.62,992.82 L539.85,989.04 L542.08,985.25 L544.31,981.45 L546.54,977.64 L548.78,973.84 L551.01,970.03 L553.24,966.23 L555.47,962.44 L557.7,958.67 L559.93,954.91 L562.17,951.17 L564.4,947.46 L566.63,943.78 L568.86,940.13 L571.09,936.51 L573.32,932.94 L575.56,929.41 L577.79,925.93 L580.02,922.5 L582.25,919.12 L584.48,915.8 L586.71,912.55 L588.95,909.36 L591.18,906.24 L593.41,903.2 L595.64,900.23 L597.87,897.35 L600.1,894.55 L602.34,891.84 L604.57,889.22 L606.8,886.7 L609.03,884.23 L611.26,881.77 L613.5,879.32 L615.73,876.88 L617.96,874.45 L620.19,872.03 L622.42,869.62 L624.65,867.23 L626.88,864.85 L629.12,862.48 L631.35,860.14 L633.58,857.8 L635.81,855.49 L638.04,853.19 L640.27,850.91 L642.51,848.66 L644.74,846.42 L646.97,844.21 L649.2,842.02 L651.43,839.86 L653.66,837.71 L655.9,835.6 L658.13,833.51 L660.36,831.45 L662.59,829.42 L664.82,827.42 L667.05,825.44 L669.29,823.5 L671.52,821.6 L673.75,819.72 L675.98,817.88 L678.21,816.07 L680.45,814.3 L682.68,812.57 L684.91,810.87 L687.14,809.21 L689.37,807.59 L691.6,806.02 L693.84,804.48 L696.07,802.98 L698.3,801.53 L700.53,800.13 L702.76,798.76 L704.99,797.45 L707.23,796.17 L709.46,794.95 L711.69,793.78 L713.92,792.65 L716.15,791.58 L718.38,790.56 L720.62,789.58 L722.85,788.67 L725.08,787.8 L727.31,786.99 L729.54,786.24 L731.77,785.54 L734,784.9 L736.24,784.32 L738.47,783.8 L740.7,783.34 L742.97,782.95 L745.24,782.64 L747.51,782.42 L749.78,782.28 L752.05,782.22 L754.32,782.23 L756.59,782.33 L758.86,782.49 L761.13,782.73 L763.39,783.04 L765.66,783.41 L767.93,783.85 L770.2,784.34 L772.47,784.9 L774.74,785.52 L777.01,786.19 L779.28,786.91 L781.55,787.69 L783.82,788.51 L786.09,789.38 L788.36,790.29 L790.63,791.24 L792.9,792.24 L795.17,793.27 L797.44,794.33 L799.71,795.43 L801.98,796.55 L804.25,797.71 L806.52,798.89 L808.78,800.09 L811.05,801.32 L813.32,802.56 L815.59,803.83 L817.86,805.1 L820.13,806.39 L822.4,807.69 L824.67,808.99 L826.94,810.3 L829.21,811.61 L831.48,812.93 L833.75,814.24 L836.02,815.55 L838.29,816.85 L840.56,818.14 L842.83,819.43 L845.1,820.7 L847.37,821.95 L849.64,823.19 L851.91,824.41 L854.17,825.61 L856.44,826.78 L858.71,827.93 L860.98,829.04 L863.25,830.13 L865.52,831.18 L867.79,832.2 L870.06,833.18 L872.33,834.12 L874.6,835.02" fill="none" stroke="#0000ff" stroke-width="2.9" stroke-linejoin="round"/>
<circle cx="339" cy="1090.7" r="11.8" fill="url(#ob)"/>
<circle cx="472.9" cy="1079.82" r="11.8" fill="url(#ob)"/>
<circle cx="606.8" cy="886.7" r="11.8" fill="url(#ob)"/>
<circle cx="740.7" cy="783.34" r="11.8" fill="url(#ob)"/>
<circle cx="874.6" cy="835.02" r="11.8" fill="url(#ob)"/>
<path d="M339,1090.7 L341.23,1090.18 L343.46,1089.69 L345.69,1089.24 L347.93,1088.82 L350.16,1088.44 L352.39,1088.08 L354.62,1087.76 L356.85,1087.46 L359.08,1087.18 L361.32,1086.93 L363.55,1086.69 L365.78,1086.48 L368.01,1086.28 L370.24,1086.09 L372.48,1085.92 L374.71,1085.75 L376.94,1085.6 L379.17,1085.45 L381.4,1085.3 L383.63,1085.16 L385.87,1085.02 L388.1,1084.87 L390.33,1084.72 L392.56,1084.56 L394.79,1084.4 L397.02,1084.23 L399.25,1084.04 L401.49,1083.84 L403.72,1083.62 L405.95,1083.39 L408.18,1083.14 L410.41,1082.86 L412.64,1082.56 L414.88,1082.23 L417.11,1081.88 L419.34,1081.5 L421.57,1081.08 L423.8,1080.63 L426.03,1080.14 L428.27,1079.62 L430.5,1079.05 L432.73,1078.45 L434.96,1077.8 L437.19,1077.1 L439.42,1076.36 L441.66,1075.56 L443.89,1074.71 L446.12,1073.81 L448.35,1072.86 L450.58,1071.84 L452.81,1070.77 L455.05,1069.63 L457.28,1068.43 L459.51,1067.16 L461.74,1065.83 L463.97,1064.42 L466.2,1062.94 L468.44,1061.39 L470.67,1059.77 L472.9,1058.06 L475.13,1056.26 L477.36,1054.36 L479.59,1052.36 L481.83,1050.26 L484.06,1048.06 L486.29,1045.78 L488.52,1043.41 L490.75,1040.95 L492.98,1038.42 L495.22,1035.8 L497.45,1033.12 L499.68,1030.36 L501.91,1027.54 L504.14,1024.65 L506.38,1021.7 L508.61,1018.7 L510.84,1015.64 L513.07,1012.53 L515.3,1009.38 L517.53,1006.18 L519.76,1002.94 L522,999.67 L524.23,996.36 L526.46,993.02 L528.69,989.65 L530.92,986.27 L533.15,982.86 L535.39,979.43 L537.62,976 L539.85,972.55 L542.08,969.1 L544.31,965.64 L546.54,962.18 L548.78,958.73 L551.01,955.28 L553.24,951.85 L555.47,948.43 L557.7,945.02 L559.93,941.64 L562.17,938.28 L564.4,934.95 L566.63,931.64 L568.86,928.38 L571.09,925.14 L573.32,921.95 L575.56,918.81 L577.79,915.71 L580.02,912.66 L582.25,909.67 L584.48,906.73 L586.71,903.85 L588.95,901.04 L591.18,898.3 L593.41,895.62 L595.64,893.02 L597.87,890.5 L600.1,888.06 L602.34,885.71 L604.57,883.44 L606.8,881.26 L609.03,879.14 L611.26,877.05 L613.5,874.98 L615.73,872.93 L617.96,870.91 L620.19,868.92 L622.42,866.95 L624.65,865 L626.88,863.08 L629.12,861.19 L631.35,859.32 L633.58,857.48 L635.81,855.66 L638.04,853.87 L640.27,852.11 L642.51,850.37 L644.74,848.66 L646.97,846.97 L649.2,845.31 L651.43,843.68 L653.66,842.08 L655.9,840.5 L658.13,838.96 L660.36,837.44 L662.59,835.94 L664.82,834.48 L667.05,833.04 L669.29,831.63 L671.52,830.25 L673.75,828.9 L675.98,827.58 L678.21,826.28 L680.45,825.02 L682.68,823.78 L684.91,822.58 L687.14,821.4 L689.37,820.25 L691.6,819.13 L693.84,818.05 L696.07,816.99 L698.3,815.96 L700.53,814.96 L702.76,814 L704.99,813.06 L707.23,812.15 L709.46,811.28 L711.69,810.44 L713.92,809.63 L716.15,808.85 L718.38,808.1 L720.62,807.38 L722.85,806.69 L725.08,806.04 L727.31,805.42 L729.54,804.83 L731.77,804.28 L734,803.75 L736.24,803.26 L738.47,802.8 L740.7,802.38 L742.97,802 L745.24,801.67 L747.51,801.41 L749.78,801.2 L752.05,801.05 L754.32,800.96 L756.59,800.92 L758.86,800.93 L761.13,800.98 L763.39,801.09 L765.66,801.25 L767.93,801.44 L770.2,801.69 L772.47,801.97 L774.74,802.29 L777.01,802.66 L779.28,803.06 L781.55,803.49 L783.82,803.96 L786.09,804.46 L788.36,805 L790.63,805.56 L792.9,806.15 L795.17,806.76 L797.44,807.4 L799.71,808.07 L801.98,808.75 L804.25,809.45 L806.52,810.17 L808.78,810.91 L811.05,811.66 L813.32,812.43 L815.59,813.21 L817.86,813.99 L820.13,814.79 L822.4,815.59 L824.67,816.4 L826.94,817.21 L829.21,818.03 L831.48,818.84 L833.75,819.65 L836.02,820.46 L838.29,821.27 L840.56,822.07 L842.83,822.86 L845.1,823.65 L847.37,824.42 L849.64,825.18 L851.91,825.93 L854.17,826.66 L856.44,827.38 L858.71,828.08 L860.98,828.75 L863.25,829.41 L865.52,830.04 L867.79,830.65 L870.06,831.23 L872.33,831.78 L874.6,832.3" fill="none" stroke="#009988" stroke-width="2.9" stroke-linejoin="round"/>
<circle cx="339" cy="1090.7" r="11.8" fill="url(#ot)"/>
<circle cx="472.9" cy="1058.06" r="11.8" fill="url(#ot)"/>
<circle cx="606.8" cy="881.26" r="11.8" fill="url(#ot)"/>
<circle cx="740.7" cy="802.38" r="11.8" fill="url(#ot)"/>
<circle cx="874.6" cy="832.3" r="11.8" fill="url(#ot)"/>
<path d="M339,1090.7 L341.23,1090.58 L343.46,1090.48 L345.69,1090.41 L347.93,1090.36 L350.16,1090.34 L352.39,1090.34 L354.62,1090.35 L356.85,1090.39 L359.08,1090.44 L361.32,1090.5 L363.55,1090.59 L365.78,1090.68 L368.01,1090.78 L370.24,1090.9 L372.48,1091.02 L374.71,1091.15 L376.94,1091.28 L379.17,1091.42 L381.4,1091.56 L383.63,1091.71 L385.87,1091.85 L388.1,1091.99 L390.33,1092.13 L392.56,1092.27 L394.79,1092.4 L397.02,1092.52 L399.25,1092.63 L401.49,1092.74 L403.72,1092.83 L405.95,1092.91 L408.18,1092.98 L410.41,1093.03 L412.64,1093.06 L414.88,1093.08 L417.11,1093.07 L419.34,1093.05 L421.57,1093 L423.8,1092.93 L426.03,1092.84 L428.27,1092.71 L430.5,1092.56 L432.73,1092.39 L434.96,1092.17 L437.19,1091.93 L439.42,1091.66 L441.66,1091.35 L443.89,1091 L446.12,1090.61 L448.35,1090.19 L450.58,1089.72 L452.81,1089.22 L455.05,1088.67 L457.28,1088.07 L459.51,1087.43 L461.74,1086.74 L463.97,1086.01 L466.2,1085.22 L468.44,1084.38 L470.67,1083.49 L472.9,1082.54 L475.13,1081.54 L477.36,1080.51 L479.59,1079.43 L481.83,1078.31 L484.06,1077.15 L486.29,1075.96 L488.52,1074.72 L490.75,1073.45 L492.98,1072.14 L495.22,1070.8 L497.45,1069.42 L499.68,1068 L501.91,1066.56 L504.14,1065.08 L506.38,1063.56 L508.61,1062.02 L510.84,1060.44 L513.07,1058.84 L515.3,1057.2 L517.53,1055.54 L519.76,1053.85 L522,1052.13 L524.23,1050.39 L526.46,1048.62 L528.69,1046.82 L530.92,1045 L533.15,1043.16 L535.39,1041.29 L537.62,1039.4 L539.85,1037.49 L542.08,1035.56 L544.31,1033.61 L546.54,1031.64 L548.78,1029.65 L551.01,1027.64 L553.24,1025.62 L555.47,1023.57 L557.7,1021.52 L559.93,1019.45 L562.17,1017.36 L564.4,1015.26 L566.63,1013.15 L568.86,1011.02 L571.09,1008.89 L573.32,1006.74 L575.56,1004.58 L577.79,1002.42 L580.02,1000.24 L582.25,998.06 L584.48,995.87 L586.71,993.68 L588.95,991.47 L591.18,989.27 L593.41,987.06 L595.64,984.84 L597.87,982.62 L600.1,980.4 L602.34,978.18 L604.57,975.96 L606.8,973.74 L609.03,971.48 L611.26,969.14 L613.5,966.73 L615.73,964.25 L617.96,961.7 L620.19,959.09 L622.42,956.42 L624.65,953.69 L626.88,950.91 L629.12,948.08 L631.35,945.2 L633.58,942.28 L635.81,939.31 L638.04,936.31 L640.27,933.28 L642.51,930.22 L644.74,927.13 L646.97,924.01 L649.2,920.88 L651.43,917.73 L653.66,914.56 L655.9,911.39 L658.13,908.21 L660.36,905.02 L662.59,901.84 L664.82,898.65 L667.05,895.48 L669.29,892.31 L671.52,889.16 L673.75,886.02 L675.98,882.9 L678.21,879.81 L680.45,876.74 L682.68,873.7 L684.91,870.69 L687.14,867.73 L689.37,864.8 L691.6,861.91 L693.84,859.07 L696.07,856.28 L698.3,853.54 L700.53,850.86 L702.76,848.23 L704.99,845.67 L707.23,843.18 L709.46,840.76 L711.69,838.4 L713.92,836.13 L716.15,833.93 L718.38,831.82 L720.62,829.79 L722.85,827.86 L725.08,826.01 L727.31,824.27 L729.54,822.62 L731.77,821.07 L734,819.63 L736.24,818.3 L738.47,817.08 L740.7,815.98 L742.97,814.97 L745.24,814.07 L747.51,813.28 L749.78,812.58 L752.05,811.99 L754.32,811.49 L756.59,811.08 L758.86,810.76 L761.13,810.53 L763.39,810.38 L765.66,810.32 L767.93,810.33 L770.2,810.42 L772.47,810.58 L774.74,810.82 L777.01,811.12 L779.28,811.48 L781.55,811.91 L783.82,812.4 L786.09,812.94 L788.36,813.54 L790.63,814.19 L792.9,814.89 L795.17,815.63 L797.44,816.41 L799.71,817.24 L801.98,818.1 L804.25,819 L806.52,819.93 L808.78,820.88 L811.05,821.86 L813.32,822.87 L815.59,823.9 L817.86,824.94 L820.13,826 L822.4,827.07 L824.67,828.15 L826.94,829.23 L829.21,830.32 L831.48,831.42 L833.75,832.5 L836.02,833.59 L838.29,834.67 L840.56,835.73 L842.83,836.79 L845.1,837.82 L847.37,838.84 L849.64,839.84 L851.91,840.82 L854.17,841.76 L856.44,842.68 L858.71,843.57 L860.98,844.42 L863.25,845.23 L865.52,846 L867.79,846.73 L870.06,847.41 L872.33,848.04 L874.6,848.62" fill="none" stroke="#70b074" stroke-width="2.9" stroke-linejoin="round"/>
<circle cx="339" cy="1090.7" r="11.8" fill="url(#og)"/>
<circle cx="472.9" cy="1082.54" r="11.8" fill="url(#og)"/>
<circle cx="606.8" cy="973.74" r="11.8" fill="url(#og)"/>
<circle cx="740.7" cy="815.98" r="11.8" fill="url(#og)"/>
<circle cx="874.6" cy="848.62" r="11.8" fill="url(#og)"/>
<line x1="300.7" y1="677.3" x2="366.1" y2="677.3" stroke="#000000" stroke-width="3.4"/>
<circle cx="333.4" cy="677.3" r="11.6" fill="url(#ok)"/>
<text x="373.2" y="686.8" font-size="27.4" fill="#000" text-anchor="start">V-rTCNQ</text>
<line x1="300.7" y1="712.1" x2="366.1" y2="712.1" stroke="#ff0000" stroke-width="3.4"/>
<circle cx="333.4" cy="712.1" r="11.6" fill="url(#or)"/>
<text x="373.2" y="721.6" font-size="27.4" fill="#000" text-anchor="start">Cr-rTCNQ</text>
<line x1="300.7" y1="746.9" x2="366.1" y2="746.9" stroke="#0000ff" stroke-width="3.4"/>
<circle cx="333.4" cy="746.9" r="11.6" fill="url(#ob)"/>
<text x="373.2" y="756.4" font-size="27.4" fill="#000" text-anchor="start">Mn-rTCNQ</text>
<line x1="300.7" y1="781.7" x2="366.1" y2="781.7" stroke="#009988" stroke-width="3.4"/>
<circle cx="333.4" cy="781.7" r="11.6" fill="url(#ot)"/>
<text x="373.2" y="791.2" font-size="27.4" fill="#000" text-anchor="start">Fe-rTCNQ</text>
<line x1="300.7" y1="816.5" x2="366.1" y2="816.5" stroke="#70b074" stroke-width="3.4"/>
<circle cx="333.4" cy="816.5" r="11.6" fill="url(#og)"/>
<text x="373.2" y="826" font-size="27.4" fill="#000" text-anchor="start">Co-rTCNQ</text>
<text x="702.3" y="894.4" font-size="25" fill="#000000" text-anchor="start">0.88 eV</text>
<text x="702.3" y="925.9" font-size="25" fill="#ff2020" text-anchor="start">1.41 eV</text>
<text x="702.3" y="957.4" font-size="25" fill="#1010ff" text-anchor="start">1.13 eV</text>
<text x="702.3" y="988.9" font-size="25" fill="#009988" text-anchor="start">1.06 eV</text>
<text x="702.3" y="1020.4" font-size="25" fill="#70b074" text-anchor="start">1.01 eV</text>
<rect x="276.6" y="1284.8" width="665.4" height="488.2" fill="none" stroke="#000" stroke-width="2.8"/>
<text x="266.3" y="1298.68" font-size="42" fill="#000" text-anchor="end">0.6</text>
<line x1="276.6" y1="1322.94" x2="281.6" y2="1322.94" stroke="#000" stroke-width="2.4"/>
<line x1="276.6" y1="1360.4" x2="286.6" y2="1360.4" stroke="#000" stroke-width="2.4"/>
<text x="266.3" y="1373.6" font-size="42" fill="#000" text-anchor="end">0.5</text>
<line x1="276.6" y1="1397.86" x2="281.6" y2="1397.86" stroke="#000" stroke-width="2.4"/>
<line x1="276.6" y1="1435.32" x2="286.6" y2="1435.32" stroke="#000" stroke-width="2.4"/>
<text x="266.3" y="1448.52" font-size="42" fill="#000" text-anchor="end">0.4</text>
<line x1="276.6" y1="1472.78" x2="281.6" y2="1472.78" stroke="#000" stroke-width="2.4"/>
<line x1="276.6" y1="1510.24" x2="286.6" y2="1510.24" stroke="#000" stroke-width="2.4"/>
<text x="266.3" y="1523.44" font-size="42" fill="#000" text-anchor="end">0.3</text>
<line x1="276.6" y1="1547.7" x2="281.6" y2="1547.7" stroke="#000" stroke-width="2.4"/>
<line x1="276.6" y1="1585.16" x2="286.6" y2="1585.16" stroke="#000" stroke-width="2.4"/>
<text x="266.3" y="1598.36" font-size="42" fill="#000" text-anchor="end">0.2</text>
<line x1="276.6" y1="1622.62" x2="281.6" y2="1622.62" stroke="#000" stroke-width="2.4"/>
<line x1="276.6" y1="1660.08" x2="286.6" y2="1660.08" stroke="#000" stroke-width="2.4"/>
<text x="266.3" y="1673.28" font-size="42" fill="#000" text-anchor="end">0.1</text>
<line x1="276.6" y1="1697.54" x2="281.6" y2="1697.54" stroke="#000" stroke-width="2.4"/>
<line x1="276.6" y1="1735" x2="286.6" y2="1735" stroke="#000" stroke-width="2.4"/>
<text x="266.3" y="1748.2" font-size="42" fill="#000" text-anchor="end">0.0</text>
<line x1="342.8" y1="1773" x2="342.8" y2="1763.5" stroke="#000" stroke-width="2.4"/>
<text x="342.8" y="1816" font-size="42" fill="#000" text-anchor="middle">0</text>
<line x1="476.3" y1="1773" x2="476.3" y2="1763.5" stroke="#000" stroke-width="2.4"/>
<text x="476.3" y="1816" font-size="42" fill="#000" text-anchor="middle">1</text>
<line x1="609.8" y1="1773" x2="609.8" y2="1763.5" stroke="#000" stroke-width="2.4"/>
<text x="609.8" y="1816" font-size="42" fill="#000" text-anchor="middle">2</text>
<line x1="743.3" y1="1773" x2="743.3" y2="1763.5" stroke="#000" stroke-width="2.4"/>
<text x="743.3" y="1816" font-size="42" fill="#000" text-anchor="middle">3</text>
<line x1="876.8" y1="1773" x2="876.8" y2="1763.5" stroke="#000" stroke-width="2.4"/>
<text x="876.8" y="1816" font-size="42" fill="#000" text-anchor="middle">4</text>
<text x="396" y="1875" font-size="48.2" fill="#000" text-anchor="start">Reaction Coordinate</text>
<text transform="translate(183.4,1746.2) rotate(-90)" x="0" y="0" font-size="48.5">Relative Energy (eV)</text>
<text x="42.8" y="1320.3" font-size="78" fill="#000" text-anchor="start" letter-spacing="1.5">(c)</text>
<path d="M342.8,1735 L345.03,1731.96 L347.25,1728.84 L349.48,1725.64 L351.7,1722.36 L353.93,1719.01 L356.15,1715.6 L358.38,1712.13 L360.6,1708.6 L362.82,1705.02 L365.05,1701.39 L367.28,1697.72 L369.5,1694 L371.73,1690.26 L373.95,1686.48 L376.18,1682.67 L378.4,1678.85 L380.62,1675 L382.85,1671.15 L385.07,1667.28 L387.3,1663.41 L389.52,1659.54 L391.75,1655.67 L393.98,1651.82 L396.2,1647.97 L398.43,1644.15 L400.65,1640.34 L402.88,1636.56 L405.1,1632.82 L407.33,1629.1 L409.55,1625.43 L411.77,1621.8 L414,1618.22 L416.23,1614.69 L418.45,1611.22 L420.68,1607.81 L422.9,1604.46 L425.12,1601.18 L427.35,1597.98 L429.58,1594.86 L431.8,1591.82 L434.03,1588.87 L436.25,1586.01 L438.48,1583.24 L440.7,1580.58 L442.93,1578.02 L445.15,1575.57 L447.38,1573.23 L449.6,1571.02 L451.82,1568.92 L454.05,1566.95 L456.27,1565.11 L458.5,1563.41 L460.73,1561.85 L462.95,1560.43 L465.18,1559.16 L467.4,1558.04 L469.62,1557.08 L471.85,1556.28 L474.08,1555.65 L476.3,1555.19 L478.53,1554.93 L480.75,1554.9 L482.98,1555.08 L485.2,1555.47 L487.43,1556.06 L489.65,1556.84 L491.88,1557.82 L494.1,1558.97 L496.32,1560.3 L498.55,1561.8 L500.77,1563.45 L503,1565.26 L505.23,1567.21 L507.45,1569.3 L509.68,1571.52 L511.9,1573.87 L514.12,1576.32 L516.35,1578.89 L518.58,1581.56 L520.8,1584.33 L523.02,1587.18 L525.25,1590.11 L527.48,1593.12 L529.7,1596.19 L531.92,1599.32 L534.15,1602.5 L536.38,1605.73 L538.6,1608.99 L540.83,1612.28 L543.05,1615.6 L545.27,1618.93 L547.5,1622.27 L549.73,1625.61 L551.95,1628.94 L554.17,1632.26 L556.4,1635.57 L558.62,1638.84 L560.85,1642.08 L563.07,1645.28 L565.3,1648.43 L567.52,1651.52 L569.75,1654.55 L571.97,1657.51 L574.2,1660.39 L576.42,1663.18 L578.65,1665.89 L580.88,1668.49 L583.1,1670.99 L585.32,1673.37 L587.55,1675.64 L589.77,1677.77 L592,1679.77 L594.22,1681.63 L596.45,1683.34 L598.67,1684.89 L600.9,1686.28 L603.12,1687.5 L605.35,1688.53 L607.57,1689.39 L609.8,1690.05 L612.02,1690.53 L614.25,1690.85 L616.47,1691.03 L618.7,1691.05 L620.92,1690.94 L623.15,1690.69 L625.38,1690.31 L627.6,1689.8 L629.82,1689.18 L632.05,1688.44 L634.27,1687.59 L636.5,1686.63 L638.72,1685.58 L640.95,1684.43 L643.17,1683.2 L645.4,1681.88 L647.62,1680.49 L649.85,1679.02 L652.07,1677.49 L654.3,1675.9 L656.52,1674.25 L658.75,1672.54 L660.97,1670.8 L663.2,1669.01 L665.42,1667.19 L667.65,1665.34 L669.88,1663.46 L672.1,1661.57 L674.32,1659.66 L676.55,1657.74 L678.77,1655.82 L681,1653.9 L683.22,1651.99 L685.45,1650.09 L687.67,1648.21 L689.9,1646.35 L692.12,1644.53 L694.35,1642.73 L696.57,1640.98 L698.8,1639.27 L701.02,1637.61 L703.25,1636 L705.47,1634.46 L707.7,1632.98 L709.92,1631.58 L712.15,1630.24 L714.38,1629 L716.6,1627.83 L718.82,1626.77 L721.05,1625.79 L723.27,1624.93 L725.5,1624.17 L727.72,1623.52 L729.95,1622.99 L732.17,1622.59 L734.4,1622.31 L736.62,1622.17 L738.85,1622.18 L741.07,1622.32 L743.3,1622.62 L745.56,1623.05 L747.83,1623.59 L750.09,1624.22 L752.35,1624.94 L754.61,1625.76 L756.88,1626.67 L759.14,1627.67 L761.4,1628.75 L763.66,1629.91 L765.93,1631.16 L768.19,1632.48 L770.45,1633.87 L772.72,1635.34 L774.98,1636.88 L777.24,1638.48 L779.5,1640.15 L781.77,1641.87 L784.03,1643.66 L786.29,1645.5 L788.55,1647.4 L790.82,1649.35 L793.08,1651.34 L795.34,1653.38 L797.61,1655.46 L799.87,1657.59 L802.13,1659.75 L804.39,1661.95 L806.66,1664.17 L808.92,1666.43 L811.18,1668.72 L813.44,1671.03 L815.71,1673.36 L817.97,1675.71 L820.23,1678.08 L822.49,1680.46 L824.76,1682.85 L827.02,1685.26 L829.28,1687.66 L831.55,1690.08 L833.81,1692.49 L836.07,1694.9 L838.33,1697.31 L840.6,1699.71 L842.86,1702.1 L845.12,1704.47 L847.38,1706.84 L849.65,1709.18 L851.91,1711.51 L854.17,1713.81 L856.44,1716.08 L858.7,1718.33 L860.96,1720.55 L863.22,1722.74 L865.49,1724.89 L867.75,1727 L870.01,1729.07 L872.27,1731.09 L874.54,1733.07 L876.8,1735" fill="none" stroke="#009988" stroke-width="2.9" stroke-linejoin="round"/>
<circle cx="342.8" cy="1735" r="10.4" fill="url(#ot)"/>
<circle cx="476.3" cy="1555.19" r="10.4" fill="url(#ot)"/>
<circle cx="609.8" cy="1690.05" r="10.4" fill="url(#ot)"/>
<circle cx="743.3" cy="1622.62" r="10.4" fill="url(#ot)"/>
<circle cx="876.8" cy="1735" r="10.4" fill="url(#ot)"/>
<path d="M342.8,1735 L345.03,1734.79 L347.25,1734.65 L349.48,1734.58 L351.7,1734.58 L353.93,1734.63 L356.15,1734.75 L358.38,1734.92 L360.6,1735.14 L362.82,1735.4 L365.05,1735.71 L367.28,1736.06 L369.5,1736.44 L371.73,1736.85 L373.95,1737.29 L376.18,1737.75 L378.4,1738.23 L380.62,1738.73 L382.85,1739.24 L385.07,1739.75 L387.3,1740.27 L389.52,1740.79 L391.75,1741.31 L393.98,1741.82 L396.2,1742.31 L398.43,1742.79 L400.65,1743.26 L402.88,1743.69 L405.1,1744.11 L407.33,1744.49 L409.55,1744.83 L411.77,1745.14 L414,1745.41 L416.23,1745.63 L418.45,1745.8 L420.68,1745.91 L422.9,1745.97 L425.12,1745.96 L427.35,1745.89 L429.58,1745.76 L431.8,1745.54 L434.03,1745.26 L436.25,1744.89 L438.48,1744.43 L440.7,1743.89 L442.93,1743.25 L445.15,1742.52 L447.38,1741.69 L449.6,1740.75 L451.82,1739.71 L454.05,1738.56 L456.27,1737.28 L458.5,1735.89 L460.73,1734.38 L462.95,1732.74 L465.18,1730.97 L467.4,1729.06 L469.62,1727.02 L471.85,1724.83 L474.08,1722.5 L476.3,1720.02 L478.53,1717.32 L480.75,1714.34 L482.98,1711.1 L485.2,1707.61 L487.43,1703.87 L489.65,1699.9 L491.88,1695.71 L494.1,1691.3 L496.32,1686.7 L498.55,1681.9 L500.77,1676.92 L503,1671.77 L505.23,1666.46 L507.45,1661 L509.68,1655.4 L511.9,1649.67 L514.12,1643.82 L516.35,1637.87 L518.58,1631.81 L520.8,1625.67 L523.02,1619.45 L525.25,1613.17 L527.48,1606.83 L529.7,1600.44 L531.92,1594.02 L534.15,1587.58 L536.38,1581.11 L538.6,1574.65 L540.83,1568.19 L543.05,1561.75 L545.27,1555.33 L547.5,1548.95 L549.73,1542.62 L551.95,1536.35 L554.17,1530.15 L556.4,1524.03 L558.62,1517.99 L560.85,1512.06 L563.07,1506.23 L565.3,1500.53 L567.52,1494.96 L569.75,1489.52 L571.97,1484.25 L574.2,1479.13 L576.42,1474.18 L578.65,1469.42 L580.88,1464.86 L583.1,1460.49 L585.32,1456.34 L587.55,1452.42 L589.77,1448.73 L592,1445.29 L594.22,1442.1 L596.45,1439.18 L598.67,1436.53 L600.9,1434.18 L603.12,1432.12 L605.35,1430.37 L607.57,1428.93 L609.8,1427.83 L612.02,1427.03 L614.25,1426.5 L616.47,1426.23 L618.7,1426.22 L620.92,1426.45 L623.15,1426.93 L625.38,1427.64 L627.6,1428.57 L629.82,1429.72 L632.05,1431.09 L634.27,1432.66 L636.5,1434.42 L638.72,1436.37 L640.95,1438.51 L643.17,1440.82 L645.4,1443.3 L647.62,1445.94 L649.85,1448.73 L652.07,1451.67 L654.3,1454.74 L656.52,1457.95 L658.75,1461.28 L660.97,1464.73 L663.2,1468.28 L665.42,1471.94 L667.65,1475.7 L669.88,1479.54 L672.1,1483.46 L674.32,1487.45 L676.55,1491.51 L678.77,1495.63 L681,1499.8 L683.22,1504.01 L685.45,1508.26 L687.67,1512.53 L689.9,1516.83 L692.12,1521.15 L694.35,1525.47 L696.57,1529.79 L698.8,1534.1 L701.02,1538.4 L703.25,1542.68 L705.47,1546.93 L707.7,1551.14 L709.92,1555.31 L712.15,1559.43 L714.38,1563.49 L716.6,1567.48 L718.82,1571.4 L721.05,1575.24 L723.27,1578.99 L725.5,1582.65 L727.72,1586.21 L729.95,1589.66 L732.17,1592.99 L734.4,1596.19 L736.62,1599.27 L738.85,1602.21 L741.07,1605 L743.3,1607.64 L745.56,1610.22 L747.83,1612.78 L750.09,1615.31 L752.35,1617.82 L754.61,1620.29 L756.88,1622.74 L759.14,1625.16 L761.4,1627.56 L763.66,1629.94 L765.93,1632.29 L768.19,1634.62 L770.45,1636.92 L772.72,1639.21 L774.98,1641.48 L777.24,1643.72 L779.5,1645.95 L781.77,1648.16 L784.03,1650.36 L786.29,1652.53 L788.55,1654.69 L790.82,1656.84 L793.08,1658.97 L795.34,1661.09 L797.61,1663.2 L799.87,1665.29 L802.13,1667.38 L804.39,1669.45 L806.66,1671.52 L808.92,1673.57 L811.18,1675.62 L813.44,1677.66 L815.71,1679.69 L817.97,1681.72 L820.23,1683.75 L822.49,1685.76 L824.76,1687.78 L827.02,1689.79 L829.28,1691.81 L831.55,1693.82 L833.81,1695.83 L836.07,1697.84 L838.33,1699.85 L840.6,1701.87 L842.86,1703.88 L845.12,1705.9 L847.38,1707.93 L849.65,1709.96 L851.91,1712 L854.17,1714.04 L856.44,1716.09 L858.7,1718.15 L860.96,1720.21 L863.22,1722.29 L865.49,1724.38 L867.75,1726.48 L870.01,1728.59 L872.27,1730.71 L874.54,1732.85 L876.8,1735" fill="none" stroke="#000000" stroke-width="2.9" stroke-linejoin="round"/>
<circle cx="342.8" cy="1735" r="10.4" fill="url(#ok)"/>
<circle cx="476.3" cy="1720.02" r="10.4" fill="url(#ok)"/>
<circle cx="609.8" cy="1427.83" r="10.4" fill="url(#ok)"/>
<circle cx="743.3" cy="1607.64" r="10.4" fill="url(#ok)"/>
<circle cx="876.8" cy="1735" r="10.4" fill="url(#ok)"/>
<path d="M342.8,1735 L345.03,1734.93 L347.25,1734.96 L349.48,1735.08 L351.7,1735.29 L353.93,1735.59 L356.15,1735.97 L358.38,1736.42 L360.6,1736.94 L362.82,1737.53 L365.05,1738.17 L367.28,1738.87 L369.5,1739.62 L371.73,1740.4 L373.95,1741.23 L376.18,1742.08 L378.4,1742.96 L380.62,1743.87 L382.85,1744.79 L385.07,1745.72 L387.3,1746.65 L389.52,1747.59 L391.75,1748.52 L393.98,1749.44 L396.2,1750.34 L398.43,1751.23 L400.65,1752.08 L402.88,1752.91 L405.1,1753.69 L407.33,1754.44 L409.55,1755.13 L411.77,1755.78 L414,1756.36 L416.23,1756.89 L418.45,1757.34 L420.68,1757.72 L422.9,1758.02 L425.12,1758.23 L427.35,1758.35 L429.58,1758.38 L431.8,1758.31 L434.03,1758.13 L436.25,1757.84 L438.48,1757.43 L440.7,1756.9 L442.93,1756.25 L445.15,1755.46 L447.38,1754.53 L449.6,1753.46 L451.82,1752.24 L454.05,1750.87 L456.27,1749.34 L458.5,1747.64 L460.73,1745.77 L462.95,1743.73 L465.18,1741.51 L467.4,1739.1 L469.62,1736.5 L471.85,1733.71 L474.08,1730.71 L476.3,1727.51 L478.53,1724.01 L480.75,1720.13 L482.98,1715.9 L485.2,1711.33 L487.43,1706.42 L489.65,1701.19 L491.88,1695.66 L494.1,1689.85 L496.32,1683.76 L498.55,1677.41 L500.77,1670.81 L503,1663.98 L505.23,1656.93 L507.45,1649.67 L509.68,1642.23 L511.9,1634.61 L514.12,1626.82 L516.35,1618.89 L518.58,1610.83 L520.8,1602.64 L523.02,1594.35 L525.25,1585.97 L527.48,1577.5 L529.7,1568.98 L531.92,1560.4 L534.15,1551.79 L536.38,1543.16 L538.6,1534.51 L540.83,1525.88 L543.05,1517.26 L545.27,1508.68 L547.5,1500.15 L549.73,1491.68 L551.95,1483.29 L554.17,1474.98 L556.4,1466.79 L558.62,1458.71 L560.85,1450.76 L563.07,1442.96 L565.3,1435.32 L567.52,1427.86 L569.75,1420.58 L571.97,1413.51 L574.2,1406.65 L576.42,1400.03 L578.65,1393.65 L580.88,1387.52 L583.1,1381.68 L585.32,1376.12 L587.55,1370.86 L589.77,1365.91 L592,1361.3 L594.22,1357.03 L596.45,1353.11 L598.67,1349.57 L600.9,1346.41 L603.12,1343.66 L605.35,1341.31 L607.57,1339.4 L609.8,1337.92 L612.02,1336.86 L614.25,1336.16 L616.47,1335.81 L618.7,1335.8 L620.92,1336.13 L623.15,1336.78 L625.38,1337.74 L627.6,1339.01 L629.82,1340.57 L632.05,1342.42 L634.27,1344.53 L636.5,1346.91 L638.72,1349.55 L640.95,1352.43 L643.17,1355.54 L645.4,1358.88 L647.62,1362.43 L649.85,1366.19 L652.07,1370.14 L654.3,1374.27 L656.52,1378.58 L658.75,1383.06 L660.97,1387.69 L663.2,1392.47 L665.42,1397.38 L667.65,1402.41 L669.88,1407.56 L672.1,1412.82 L674.32,1418.17 L676.55,1423.61 L678.77,1429.13 L681,1434.71 L683.22,1440.35 L685.45,1446.03 L687.67,1451.75 L689.9,1457.5 L692.12,1463.26 L694.35,1469.03 L696.57,1474.8 L698.8,1480.55 L701.02,1486.28 L703.25,1491.98 L705.47,1497.63 L707.7,1503.24 L709.92,1508.78 L712.15,1514.24 L714.38,1519.63 L716.6,1524.92 L718.82,1530.12 L721.05,1535.2 L723.27,1540.15 L725.5,1544.98 L727.72,1549.67 L729.95,1554.2 L732.17,1558.57 L734.4,1562.77 L736.62,1566.79 L738.85,1570.62 L741.07,1574.25 L743.3,1577.67 L745.56,1581.01 L747.83,1584.31 L750.09,1587.56 L752.35,1590.76 L754.61,1593.93 L756.88,1597.05 L759.14,1600.13 L761.4,1603.18 L763.66,1606.18 L765.93,1609.15 L768.19,1612.09 L770.45,1614.99 L772.72,1617.85 L774.98,1620.69 L777.24,1623.49 L779.5,1626.27 L781.77,1629.02 L784.03,1631.74 L786.29,1634.43 L788.55,1637.1 L790.82,1639.75 L793.08,1642.38 L795.34,1644.98 L797.61,1647.57 L799.87,1650.13 L802.13,1652.68 L804.39,1655.21 L806.66,1657.73 L808.92,1660.24 L811.18,1662.73 L813.44,1665.21 L815.71,1667.68 L817.97,1670.14 L820.23,1672.6 L822.49,1675.05 L824.76,1677.49 L827.02,1679.93 L829.28,1682.36 L831.55,1684.8 L833.81,1687.23 L836.07,1689.67 L838.33,1692.1 L840.6,1694.54 L842.86,1696.99 L845.12,1699.44 L847.38,1701.89 L849.65,1704.36 L851.91,1706.83 L854.17,1709.32 L856.44,1711.81 L858.7,1714.32 L860.96,1716.84 L863.22,1719.38 L865.49,1721.94 L867.75,1724.51 L870.01,1727.1 L872.27,1729.71 L874.54,1732.34 L876.8,1735" fill="none" stroke="#ff0000" stroke-width="2.9" stroke-linejoin="round"/>
<circle cx="342.8" cy="1735" r="10.4" fill="url(#or)"/>
<circle cx="476.3" cy="1727.51" r="10.4" fill="url(#or)"/>
<circle cx="609.8" cy="1337.92" r="10.4" fill="url(#or)"/>
<circle cx="743.3" cy="1577.67" r="10.4" fill="url(#or)"/>
<circle cx="876.8" cy="1735" r="10.4" fill="url(#or)"/>
<path d="M342.8,1735 L345.03,1734.49 L347.25,1733.97 L349.48,1733.44 L351.7,1732.89 L353.93,1732.34 L356.15,1731.77 L358.38,1731.19 L360.6,1730.6 L362.82,1730 L365.05,1729.4 L367.28,1728.79 L369.5,1728.17 L371.73,1727.54 L373.95,1726.91 L376.18,1726.28 L378.4,1725.64 L380.62,1725 L382.85,1724.36 L385.07,1723.71 L387.3,1723.07 L389.52,1722.42 L391.75,1721.78 L393.98,1721.14 L396.2,1720.5 L398.43,1719.86 L400.65,1719.22 L402.88,1718.59 L405.1,1717.97 L407.33,1717.35 L409.55,1716.74 L411.77,1716.13 L414,1715.54 L416.23,1714.95 L418.45,1714.37 L420.68,1713.8 L422.9,1713.24 L425.12,1712.7 L427.35,1712.16 L429.58,1711.64 L431.8,1711.14 L434.03,1710.64 L436.25,1710.17 L438.48,1709.71 L440.7,1709.26 L442.93,1708.84 L445.15,1708.43 L447.38,1708.04 L449.6,1707.67 L451.82,1707.32 L454.05,1706.99 L456.27,1706.69 L458.5,1706.4 L460.73,1706.14 L462.95,1705.9 L465.18,1705.69 L467.4,1705.51 L469.62,1705.35 L471.85,1705.21 L474.08,1705.11 L476.3,1705.03 L478.53,1705.01 L480.75,1705.08 L482.98,1705.22 L485.2,1705.44 L487.43,1705.74 L489.65,1706.1 L491.88,1706.53 L494.1,1707.02 L496.32,1707.57 L498.55,1708.17 L500.77,1708.83 L503,1709.53 L505.23,1710.27 L507.45,1711.06 L509.68,1711.88 L511.9,1712.73 L514.12,1713.62 L516.35,1714.53 L518.58,1715.46 L520.8,1716.41 L523.02,1717.37 L525.25,1718.35 L527.48,1719.33 L529.7,1720.32 L531.92,1721.3 L534.15,1722.28 L536.38,1723.26 L538.6,1724.22 L540.83,1725.17 L543.05,1726.1 L545.27,1727.01 L547.5,1727.9 L549.73,1728.75 L551.95,1729.57 L554.17,1730.36 L556.4,1731.1 L558.62,1731.81 L560.85,1732.46 L563.07,1733.06 L565.3,1733.61 L567.52,1734.1 L569.75,1734.53 L571.97,1734.89 L574.2,1735.19 L576.42,1735.41 L578.65,1735.55 L580.88,1735.62 L583.1,1735.6 L585.32,1735.49 L587.55,1735.29 L589.77,1735 L592,1734.61 L594.22,1734.12 L596.45,1733.52 L598.67,1732.81 L600.9,1731.99 L603.12,1731.05 L605.35,1730 L607.57,1728.82 L609.8,1727.51 L612.02,1726.02 L614.25,1724.33 L616.47,1722.42 L618.7,1720.32 L620.92,1718.03 L623.15,1715.55 L625.38,1712.91 L627.6,1710.1 L629.82,1707.13 L632.05,1704.01 L634.27,1700.75 L636.5,1697.36 L638.72,1693.85 L640.95,1690.22 L643.17,1686.48 L645.4,1682.64 L647.62,1678.71 L649.85,1674.7 L652.07,1670.61 L654.3,1666.46 L656.52,1662.25 L658.75,1657.99 L660.97,1653.69 L663.2,1649.35 L665.42,1644.99 L667.65,1640.61 L669.88,1636.22 L672.1,1631.83 L674.32,1627.45 L676.55,1623.09 L678.77,1618.75 L681,1614.44 L683.22,1610.17 L685.45,1605.95 L687.67,1601.79 L689.9,1597.69 L692.12,1593.66 L694.35,1589.72 L696.57,1585.86 L698.8,1582.11 L701.02,1578.46 L703.25,1574.92 L705.47,1571.51 L707.7,1568.23 L709.92,1565.08 L712.15,1562.09 L714.38,1559.25 L716.6,1556.57 L718.82,1554.07 L721.05,1551.74 L723.27,1549.6 L725.5,1547.66 L727.72,1545.93 L729.95,1544.41 L732.17,1543.11 L734.4,1542.03 L736.62,1541.2 L738.85,1540.61 L741.07,1540.28 L743.3,1540.21 L745.56,1540.38 L747.83,1540.77 L750.09,1541.36 L752.35,1542.16 L754.61,1543.15 L756.88,1544.34 L759.14,1545.71 L761.4,1547.26 L763.66,1548.99 L765.93,1550.89 L768.19,1552.95 L770.45,1555.17 L772.72,1557.54 L774.98,1560.06 L777.24,1562.72 L779.5,1565.51 L781.77,1568.44 L784.03,1571.49 L786.29,1574.66 L788.55,1577.94 L790.82,1581.33 L793.08,1584.83 L795.34,1588.42 L797.61,1592.1 L799.87,1595.86 L802.13,1599.71 L804.39,1603.63 L806.66,1607.62 L808.92,1611.67 L811.18,1615.79 L813.44,1619.95 L815.71,1624.16 L817.97,1628.41 L820.23,1632.69 L822.49,1637.01 L824.76,1641.35 L827.02,1645.71 L829.28,1650.08 L831.55,1654.46 L833.81,1658.84 L836.07,1663.21 L838.33,1667.58 L840.6,1671.94 L842.86,1676.27 L845.12,1680.57 L847.38,1684.85 L849.65,1689.09 L851.91,1693.28 L854.17,1697.43 L856.44,1701.52 L858.7,1705.55 L860.96,1709.52 L863.22,1713.42 L865.49,1717.24 L867.75,1720.98 L870.01,1724.63 L872.27,1728.18 L874.54,1731.64 L876.8,1735" fill="none" stroke="#0000ff" stroke-width="2.9" stroke-linejoin="round"/>
<circle cx="342.8" cy="1735" r="10.4" fill="url(#ob)"/>
<circle cx="476.3" cy="1705.03" r="10.4" fill="url(#ob)"/>
<circle cx="609.8" cy="1727.51" r="10.4" fill="url(#ob)"/>
<circle cx="743.3" cy="1540.21" r="10.4" fill="url(#ob)"/>
<circle cx="876.8" cy="1735" r="10.4" fill="url(#ob)"/>
<path d="M342.8,1735 L345.03,1732.09 L347.25,1729.09 L349.48,1726.01 L351.7,1722.86 L353.93,1719.64 L356.15,1716.35 L358.38,1713 L360.6,1709.6 L362.82,1706.14 L365.05,1702.64 L367.28,1699.09 L369.5,1695.5 L371.73,1691.88 L373.95,1688.23 L376.18,1684.55 L378.4,1680.84 L380.62,1677.13 L382.85,1673.39 L385.07,1669.65 L387.3,1665.91 L389.52,1662.16 L391.75,1658.42 L393.98,1654.69 L396.2,1650.97 L398.43,1647.27 L400.65,1643.59 L402.88,1639.93 L405.1,1636.31 L407.33,1632.72 L409.55,1629.18 L411.77,1625.67 L414,1622.21 L416.23,1618.81 L418.45,1615.46 L420.68,1612.18 L422.9,1608.95 L425.12,1605.8 L427.35,1602.73 L429.58,1599.73 L431.8,1596.81 L434.03,1593.99 L436.25,1591.25 L438.48,1588.61 L440.7,1586.07 L442.93,1583.64 L445.15,1581.31 L447.38,1579.1 L449.6,1577.01 L451.82,1575.04 L454.05,1573.19 L456.27,1571.48 L458.5,1569.9 L460.73,1568.47 L462.95,1567.17 L465.18,1566.03 L467.4,1565.03 L469.62,1564.2 L471.85,1563.53 L474.08,1563.02 L476.3,1562.68 L478.53,1562.55 L480.75,1562.65 L482.98,1562.96 L485.2,1563.49 L487.43,1564.22 L489.65,1565.15 L491.88,1566.28 L494.1,1567.58 L496.32,1569.06 L498.55,1570.71 L500.77,1572.53 L503,1574.49 L505.23,1576.6 L507.45,1578.86 L509.68,1581.24 L511.9,1583.75 L514.12,1586.37 L516.35,1589.1 L518.58,1591.94 L520.8,1594.87 L523.02,1597.89 L525.25,1600.99 L527.48,1604.16 L529.7,1607.4 L531.92,1610.69 L534.15,1614.04 L536.38,1617.42 L538.6,1620.85 L540.83,1624.3 L543.05,1627.77 L545.27,1631.26 L547.5,1634.75 L549.73,1638.24 L551.95,1641.72 L554.17,1645.19 L556.4,1648.63 L558.62,1652.04 L560.85,1655.42 L563.07,1658.75 L565.3,1662.02 L567.52,1665.24 L569.75,1668.38 L571.97,1671.46 L574.2,1674.45 L576.42,1677.35 L578.65,1680.15 L580.88,1682.85 L583.1,1685.43 L585.32,1687.9 L587.55,1690.24 L589.77,1692.44 L592,1694.51 L594.22,1696.42 L596.45,1698.18 L598.67,1699.78 L600.9,1701.2 L603.12,1702.44 L605.35,1703.5 L607.57,1704.37 L609.8,1705.03 L612.02,1705.51 L614.25,1705.82 L616.47,1705.97 L618.7,1705.97 L620.92,1705.82 L623.15,1705.53 L625.38,1705.1 L627.6,1704.54 L629.82,1703.85 L632.05,1703.04 L634.27,1702.11 L636.5,1701.08 L638.72,1699.94 L640.95,1698.7 L643.17,1697.36 L645.4,1695.94 L647.62,1694.44 L649.85,1692.86 L652.07,1691.21 L654.3,1689.49 L656.52,1687.72 L658.75,1685.88 L660.97,1684 L663.2,1682.08 L665.42,1680.11 L667.65,1678.12 L669.88,1676.09 L672.1,1674.05 L674.32,1671.99 L676.55,1669.91 L678.77,1667.84 L681,1665.76 L683.22,1663.69 L685.45,1661.63 L687.67,1659.58 L689.9,1657.56 L692.12,1655.57 L694.35,1653.61 L696.57,1651.69 L698.8,1649.81 L701.02,1647.99 L703.25,1646.22 L705.47,1644.51 L707.7,1642.86 L709.92,1641.29 L712.15,1639.8 L714.38,1638.39 L716.6,1637.06 L718.82,1635.84 L721.05,1634.71 L723.27,1633.68 L725.5,1632.77 L727.72,1631.97 L729.95,1631.3 L732.17,1630.75 L734.4,1630.34 L736.62,1630.06 L738.85,1629.93 L741.07,1629.94 L743.3,1630.11 L745.56,1630.42 L747.83,1630.82 L750.09,1631.33 L752.35,1631.93 L754.61,1632.62 L756.88,1633.4 L759.14,1634.27 L761.4,1635.23 L763.66,1636.26 L765.93,1637.38 L768.19,1638.57 L770.45,1639.84 L772.72,1641.18 L774.98,1642.59 L777.24,1644.07 L779.5,1645.61 L781.77,1647.21 L784.03,1648.87 L786.29,1650.58 L788.55,1652.35 L790.82,1654.17 L793.08,1656.04 L795.34,1657.95 L797.61,1659.91 L799.87,1661.91 L802.13,1663.94 L804.39,1666.01 L806.66,1668.11 L808.92,1670.24 L811.18,1672.4 L813.44,1674.58 L815.71,1676.79 L817.97,1679.01 L820.23,1681.25 L822.49,1683.51 L824.76,1685.78 L827.02,1688.05 L829.28,1690.33 L831.55,1692.62 L833.81,1694.9 L836.07,1697.19 L838.33,1699.46 L840.6,1701.74 L842.86,1704 L845.12,1706.25 L847.38,1708.49 L849.65,1710.7 L851.91,1712.9 L854.17,1715.08 L856.44,1717.23 L858.7,1719.35 L860.96,1721.44 L863.22,1723.5 L865.49,1725.52 L867.75,1727.5 L870.01,1729.45 L872.27,1731.34 L874.54,1733.2 L876.8,1735" fill="none" stroke="#70b074" stroke-width="2.9" stroke-linejoin="round"/>
<circle cx="342.8" cy="1735" r="10.4" fill="url(#og)"/>
<circle cx="476.3" cy="1562.68" r="10.4" fill="url(#og)"/>
<circle cx="609.8" cy="1705.03" r="10.4" fill="url(#og)"/>
<circle cx="743.3" cy="1630.11" r="10.4" fill="url(#og)"/>
<circle cx="876.8" cy="1735" r="10.4" fill="url(#og)"/>
<line x1="284.7" y1="1307.1" x2="349" y2="1307.1" stroke="#000000" stroke-width="3.4"/>
<circle cx="316.6" cy="1307.1" r="9.6" fill="url(#ok)"/>
<text x="355.2" y="1316.1" font-size="27.4" fill="#000" text-anchor="start">V-rTCNQ</text>
<line x1="284.7" y1="1341.8" x2="349" y2="1341.8" stroke="#ff0000" stroke-width="3.4"/>
<circle cx="316.6" cy="1341.8" r="9.6" fill="url(#or)"/>
<text x="355.2" y="1350.8" font-size="27.4" fill="#000" text-anchor="start">Cr-rTCNQ</text>
<line x1="284.7" y1="1376.5" x2="349" y2="1376.5" stroke="#0000ff" stroke-width="3.4"/>
<circle cx="316.6" cy="1376.5" r="9.6" fill="url(#ob)"/>
<text x="355.2" y="1385.5" font-size="27.4" fill="#000" text-anchor="start">Mn-rTCNQ</text>
<line x1="284.7" y1="1411.2" x2="349" y2="1411.2" stroke="#009988" stroke-width="3.4"/>
<circle cx="316.6" cy="1411.2" r="9.6" fill="url(#ot)"/>
<text x="355.2" y="1420.2" font-size="27.4" fill="#000" text-anchor="start">Fe-rTCNQ</text>
<line x1="284.7" y1="1445.9" x2="349" y2="1445.9" stroke="#70b074" stroke-width="3.4"/>
<circle cx="316.6" cy="1445.9" r="9.6" fill="url(#og)"/>
<text x="355.2" y="1454.9" font-size="27.4" fill="#000" text-anchor="start">Co-rTCNQ</text>
<text x="576.9" y="1496.8" font-size="25" fill="#000000" text-anchor="start">0.41 eV</text>
<text x="576.9" y="1528.3" font-size="25" fill="#ff2020" text-anchor="start">0.53 eV</text>
<text x="576.9" y="1559.8" font-size="25" fill="#1010ff" text-anchor="start">0.26 eV</text>
<text x="576.9" y="1591.3" font-size="25" fill="#009988" text-anchor="start">0.24 eV</text>
<text x="576.9" y="1622.8" font-size="25" fill="#70b074" text-anchor="start">0.23 eV</text>
<line x1="1064" y1="852.3" x2="1005.5" y2="797.2" stroke="#e83c24" stroke-width="7"/>
<line x1="1030.93" y1="821.15" x2="1005.5" y2="797.2" stroke="#2a2ae0" stroke-width="7"/>
<line x1="1064" y1="852.3" x2="1030.93" y2="821.15" stroke="#ff9a86" stroke-width="2.1" opacity="0.85"/>
<line x1="1030.93" y1="821.15" x2="1005.5" y2="797.2" stroke="#8888ff" stroke-width="2.1" opacity="0.85"/>
<line x1="1064" y1="852.3" x2="1122.5" y2="797.2" stroke="#e83c24" stroke-width="7"/>
<line x1="1097.07" y1="821.15" x2="1122.5" y2="797.2" stroke="#2a2ae0" stroke-width="7"/>
<line x1="1064" y1="852.3" x2="1097.07" y2="821.15" stroke="#ff9a86" stroke-width="2.1" opacity="0.85"/>
<line x1="1097.07" y1="821.15" x2="1122.5" y2="797.2" stroke="#8888ff" stroke-width="2.1" opacity="0.85"/>
<line x1="1363.6" y1="852.6" x2="1302.2" y2="795.7" stroke="#e83c24" stroke-width="7"/>
<line x1="1329.05" y1="820.58" x2="1302.2" y2="795.7" stroke="#2a2ae0" stroke-width="7"/>
<line x1="1363.6" y1="852.6" x2="1329.05" y2="820.58" stroke="#ff9a86" stroke-width="2.1" opacity="0.85"/>
<line x1="1329.05" y1="820.58" x2="1302.2" y2="795.7" stroke="#8888ff" stroke-width="2.1" opacity="0.85"/>
<line x1="1363.6" y1="852.6" x2="1425" y2="795.7" stroke="#e83c24" stroke-width="7"/>
<line x1="1398.15" y1="820.58" x2="1425" y2="795.7" stroke="#2a2ae0" stroke-width="7"/>
<line x1="1363.6" y1="852.6" x2="1398.15" y2="820.58" stroke="#ff9a86" stroke-width="2.1" opacity="0.85"/>
<line x1="1398.15" y1="820.58" x2="1425" y2="795.7" stroke="#8888ff" stroke-width="2.1" opacity="0.85"/>
<line x1="1005.5" y1="797.2" x2="966" y2="768.2" stroke="#2a2ae0" stroke-width="6.5"/>
<line x1="986.11" y1="782.97" x2="966" y2="768.2" stroke="#a66a50" stroke-width="6.5"/>
<line x1="1005.5" y1="797.2" x2="986.11" y2="782.97" stroke="#8888ff" stroke-width="1.95" opacity="0.85"/>
<line x1="986.11" y1="782.97" x2="966" y2="768.2" stroke="#e8c0aa" stroke-width="1.95" opacity="0.85"/>
<line x1="1122.5" y1="797.2" x2="1162" y2="768.2" stroke="#2a2ae0" stroke-width="6.5"/>
<line x1="1141.89" y1="782.97" x2="1162" y2="768.2" stroke="#a66a50" stroke-width="6.5"/>
<line x1="1122.5" y1="797.2" x2="1141.89" y2="782.97" stroke="#8888ff" stroke-width="1.95" opacity="0.85"/>
<line x1="1141.89" y1="782.97" x2="1162" y2="768.2" stroke="#e8c0aa" stroke-width="1.95" opacity="0.85"/>
<line x1="1302.2" y1="795.7" x2="1261.7" y2="767.2" stroke="#2a2ae0" stroke-width="6.5"/>
<line x1="1282.32" y1="781.71" x2="1261.7" y2="767.2" stroke="#a66a50" stroke-width="6.5"/>
<line x1="1302.2" y1="795.7" x2="1282.32" y2="781.71" stroke="#8888ff" stroke-width="1.95" opacity="0.85"/>
<line x1="1282.32" y1="781.71" x2="1261.7" y2="767.2" stroke="#e8c0aa" stroke-width="1.95" opacity="0.85"/>
<line x1="1425" y1="795.7" x2="1465.5" y2="767.2" stroke="#2a2ae0" stroke-width="6.5"/>
<line x1="1444.88" y1="781.71" x2="1465.5" y2="767.2" stroke="#a66a50" stroke-width="6.5"/>
<line x1="1425" y1="795.7" x2="1444.88" y2="781.71" stroke="#8888ff" stroke-width="1.95" opacity="0.85"/>
<line x1="1444.88" y1="781.71" x2="1465.5" y2="767.2" stroke="#e8c0aa" stroke-width="1.95" opacity="0.85"/>
<line x1="1162" y1="768.2" x2="1212" y2="735.2" stroke="#a66a50" stroke-width="6.5"/>
<line x1="1162" y1="768.2" x2="1212" y2="735.2" stroke="#e8c0aa" stroke-width="1.95" opacity="0.85"/>
<line x1="1261.7" y1="767.2" x2="1212" y2="735.2" stroke="#a66a50" stroke-width="6.5"/>
<line x1="1261.7" y1="767.2" x2="1212" y2="735.2" stroke="#e8c0aa" stroke-width="1.95" opacity="0.85"/>
<line x1="1465.5" y1="767.2" x2="1515.1" y2="735.1" stroke="#a66a50" stroke-width="6.5"/>
<line x1="1465.5" y1="767.2" x2="1515.1" y2="735.1" stroke="#e8c0aa" stroke-width="1.95" opacity="0.85"/>
<line x1="1212" y1="735.2" x2="1212" y2="673.2" stroke="#a66a50" stroke-width="6.5"/>
<line x1="1212" y1="735.2" x2="1212" y2="673.2" stroke="#e8c0aa" stroke-width="1.95" opacity="0.85"/>
<line x1="1515.1" y1="735.1" x2="1515.1" y2="673.3" stroke="#a66a50" stroke-width="6.5"/>
<line x1="1515.1" y1="735.1" x2="1515.1" y2="673.3" stroke="#e8c0aa" stroke-width="1.95" opacity="0.85"/>
<line x1="1212" y1="673.2" x2="1160.5" y2="643.2" stroke="#a66a50" stroke-width="6.5"/>
<line x1="1212" y1="673.2" x2="1160.5" y2="643.2" stroke="#e8c0aa" stroke-width="1.95" opacity="0.85"/>
<line x1="1212" y1="673.2" x2="1262.7" y2="642.8" stroke="#a66a50" stroke-width="6.5"/>
<line x1="1212" y1="673.2" x2="1262.7" y2="642.8" stroke="#e8c0aa" stroke-width="1.95" opacity="0.85"/>
<line x1="1515.1" y1="673.3" x2="1464.5" y2="642.8" stroke="#a66a50" stroke-width="6.5"/>
<line x1="1515.1" y1="673.3" x2="1464.5" y2="642.8" stroke="#e8c0aa" stroke-width="1.95" opacity="0.85"/>
<line x1="967.5" y1="643.2" x2="1007.5" y2="665.7" stroke="#a66a50" stroke-width="6.5"/>
<line x1="989.64" y1="655.65" x2="1007.5" y2="665.7" stroke="#eec2c2" stroke-width="6.5"/>
<line x1="967.5" y1="643.2" x2="989.64" y2="655.65" stroke="#e8c0aa" stroke-width="1.95" opacity="0.85"/>
<line x1="989.64" y1="655.65" x2="1007.5" y2="665.7" stroke="#ffffff" stroke-width="1.95" opacity="0.85"/>
<line x1="1160.5" y1="643.2" x2="1120.5" y2="665.7" stroke="#a66a50" stroke-width="6.5"/>
<line x1="1138.36" y1="655.65" x2="1120.5" y2="665.7" stroke="#eec2c2" stroke-width="6.5"/>
<line x1="1160.5" y1="643.2" x2="1138.36" y2="655.65" stroke="#e8c0aa" stroke-width="1.95" opacity="0.85"/>
<line x1="1138.36" y1="655.65" x2="1120.5" y2="665.7" stroke="#ffffff" stroke-width="1.95" opacity="0.85"/>
<line x1="1262.7" y1="642.8" x2="1303.2" y2="665.2" stroke="#a66a50" stroke-width="6.5"/>
<line x1="1285.09" y1="655.19" x2="1303.2" y2="665.2" stroke="#eec2c2" stroke-width="6.5"/>
<line x1="1262.7" y1="642.8" x2="1285.09" y2="655.19" stroke="#e8c0aa" stroke-width="1.95" opacity="0.85"/>
<line x1="1285.09" y1="655.19" x2="1303.2" y2="665.2" stroke="#ffffff" stroke-width="1.95" opacity="0.85"/>
<line x1="1464.5" y1="642.8" x2="1424" y2="665.2" stroke="#a66a50" stroke-width="6.5"/>
<line x1="1442.11" y1="655.19" x2="1424" y2="665.2" stroke="#eec2c2" stroke-width="6.5"/>
<line x1="1464.5" y1="642.8" x2="1442.11" y2="655.19" stroke="#e8c0aa" stroke-width="1.95" opacity="0.85"/>
<line x1="1442.11" y1="655.19" x2="1424" y2="665.2" stroke="#ffffff" stroke-width="1.95" opacity="0.85"/>
<line x1="1064" y1="852.3" x2="1005.5" y2="908.2" stroke="#e83c24" stroke-width="7"/>
<line x1="1030.95" y1="883.88" x2="1005.5" y2="908.2" stroke="#2a2ae0" stroke-width="7"/>
<line x1="1064" y1="852.3" x2="1030.95" y2="883.88" stroke="#ff9a86" stroke-width="2.1" opacity="0.85"/>
<line x1="1030.95" y1="883.88" x2="1005.5" y2="908.2" stroke="#8888ff" stroke-width="2.1" opacity="0.85"/>
<line x1="1064" y1="852.3" x2="1122.5" y2="908.2" stroke="#e83c24" stroke-width="7"/>
<line x1="1097.05" y1="883.88" x2="1122.5" y2="908.2" stroke="#2a2ae0" stroke-width="7"/>
<line x1="1064" y1="852.3" x2="1097.05" y2="883.88" stroke="#ff9a86" stroke-width="2.1" opacity="0.85"/>
<line x1="1097.05" y1="883.88" x2="1122.5" y2="908.2" stroke="#8888ff" stroke-width="2.1" opacity="0.85"/>
<line x1="1363.6" y1="852.6" x2="1302.2" y2="909.7" stroke="#e83c24" stroke-width="7"/>
<line x1="1329.06" y1="884.73" x2="1302.2" y2="909.7" stroke="#2a2ae0" stroke-width="7"/>
<line x1="1363.6" y1="852.6" x2="1329.06" y2="884.73" stroke="#ff9a86" stroke-width="2.1" opacity="0.85"/>
<line x1="1329.06" y1="884.73" x2="1302.2" y2="909.7" stroke="#8888ff" stroke-width="2.1" opacity="0.85"/>
<line x1="1363.6" y1="852.6" x2="1425" y2="909.7" stroke="#e83c24" stroke-width="7"/>
<line x1="1398.14" y1="884.73" x2="1425" y2="909.7" stroke="#2a2ae0" stroke-width="7"/>
<line x1="1363.6" y1="852.6" x2="1398.14" y2="884.73" stroke="#ff9a86" stroke-width="2.1" opacity="0.85"/>
<line x1="1398.14" y1="884.73" x2="1425" y2="909.7" stroke="#8888ff" stroke-width="2.1" opacity="0.85"/>
<line x1="1005.5" y1="908.2" x2="966" y2="937.2" stroke="#2a2ae0" stroke-width="6.5"/>
<line x1="986.11" y1="922.43" x2="966" y2="937.2" stroke="#a66a50" stroke-width="6.5"/>
<line x1="1005.5" y1="908.2" x2="986.11" y2="922.43" stroke="#8888ff" stroke-width="1.95" opacity="0.85"/>
<line x1="986.11" y1="922.43" x2="966" y2="937.2" stroke="#e8c0aa" stroke-width="1.95" opacity="0.85"/>
<line x1="1122.5" y1="908.2" x2="1162" y2="937.2" stroke="#2a2ae0" stroke-width="6.5"/>
<line x1="1141.89" y1="922.43" x2="1162" y2="937.2" stroke="#a66a50" stroke-width="6.5"/>
<line x1="1122.5" y1="908.2" x2="1141.89" y2="922.43" stroke="#8888ff" stroke-width="1.95" opacity="0.85"/>
<line x1="1141.89" y1="922.43" x2="1162" y2="937.2" stroke="#e8c0aa" stroke-width="1.95" opacity="0.85"/>
<line x1="1302.2" y1="909.7" x2="1261.7" y2="938.2" stroke="#2a2ae0" stroke-width="6.5"/>
<line x1="1282.32" y1="923.69" x2="1261.7" y2="938.2" stroke="#a66a50" stroke-width="6.5"/>
<line x1="1302.2" y1="909.7" x2="1282.32" y2="923.69" stroke="#8888ff" stroke-width="1.95" opacity="0.85"/>
<line x1="1282.32" y1="923.69" x2="1261.7" y2="938.2" stroke="#e8c0aa" stroke-width="1.95" opacity="0.85"/>
<line x1="1425" y1="909.7" x2="1465.5" y2="938.2" stroke="#2a2ae0" stroke-width="6.5"/>
<line x1="1444.88" y1="923.69" x2="1465.5" y2="938.2" stroke="#a66a50" stroke-width="6.5"/>
<line x1="1425" y1="909.7" x2="1444.88" y2="923.69" stroke="#8888ff" stroke-width="1.95" opacity="0.85"/>
<line x1="1444.88" y1="923.69" x2="1465.5" y2="938.2" stroke="#e8c0aa" stroke-width="1.95" opacity="0.85"/>
<line x1="1162" y1="937.2" x2="1212" y2="970.2" stroke="#a66a50" stroke-width="6.5"/>
<line x1="1162" y1="937.2" x2="1212" y2="970.2" stroke="#e8c0aa" stroke-width="1.95" opacity="0.85"/>
<line x1="1261.7" y1="938.2" x2="1212" y2="970.2" stroke="#a66a50" stroke-width="6.5"/>
<line x1="1261.7" y1="938.2" x2="1212" y2="970.2" stroke="#e8c0aa" stroke-width="1.95" opacity="0.85"/>
<line x1="1465.5" y1="938.2" x2="1515.1" y2="970.3" stroke="#a66a50" stroke-width="6.5"/>
<line x1="1465.5" y1="938.2" x2="1515.1" y2="970.3" stroke="#e8c0aa" stroke-width="1.95" opacity="0.85"/>
<line x1="1212" y1="970.2" x2="1212" y2="1032.2" stroke="#a66a50" stroke-width="6.5"/>
<line x1="1212" y1="970.2" x2="1212" y2="1032.2" stroke="#e8c0aa" stroke-width="1.95" opacity="0.85"/>
<line x1="1515.1" y1="970.3" x2="1515.1" y2="1032.1" stroke="#a66a50" stroke-width="6.5"/>
<line x1="1515.1" y1="970.3" x2="1515.1" y2="1032.1" stroke="#e8c0aa" stroke-width="1.95" opacity="0.85"/>
<line x1="1212" y1="1032.2" x2="1160.5" y2="1062.2" stroke="#a66a50" stroke-width="6.5"/>
<line x1="1212" y1="1032.2" x2="1160.5" y2="1062.2" stroke="#e8c0aa" stroke-width="1.95" opacity="0.85"/>
<line x1="1212" y1="1032.2" x2="1262.7" y2="1062.6" stroke="#a66a50" stroke-width="6.5"/>
<line x1="1212" y1="1032.2" x2="1262.7" y2="1062.6" stroke="#e8c0aa" stroke-width="1.95" opacity="0.85"/>
<line x1="1515.1" y1="1032.1" x2="1464.5" y2="1062.6" stroke="#a66a50" stroke-width="6.5"/>
<line x1="1515.1" y1="1032.1" x2="1464.5" y2="1062.6" stroke="#e8c0aa" stroke-width="1.95" opacity="0.85"/>
<line x1="967.5" y1="1062.2" x2="1007.5" y2="1039.7" stroke="#a66a50" stroke-width="6.5"/>
<line x1="989.64" y1="1049.75" x2="1007.5" y2="1039.7" stroke="#eec2c2" stroke-width="6.5"/>
<line x1="967.5" y1="1062.2" x2="989.64" y2="1049.75" stroke="#e8c0aa" stroke-width="1.95" opacity="0.85"/>
<line x1="989.64" y1="1049.75" x2="1007.5" y2="1039.7" stroke="#ffffff" stroke-width="1.95" opacity="0.85"/>
<line x1="1160.5" y1="1062.2" x2="1120.5" y2="1039.7" stroke="#a66a50" stroke-width="6.5"/>
<line x1="1138.36" y1="1049.75" x2="1120.5" y2="1039.7" stroke="#eec2c2" stroke-width="6.5"/>
<line x1="1160.5" y1="1062.2" x2="1138.36" y2="1049.75" stroke="#e8c0aa" stroke-width="1.95" opacity="0.85"/>
<line x1="1138.36" y1="1049.75" x2="1120.5" y2="1039.7" stroke="#ffffff" stroke-width="1.95" opacity="0.85"/>
<line x1="1262.7" y1="1062.6" x2="1303.2" y2="1040.2" stroke="#a66a50" stroke-width="6.5"/>
<line x1="1285.09" y1="1050.21" x2="1303.2" y2="1040.2" stroke="#eec2c2" stroke-width="6.5"/>
<line x1="1262.7" y1="1062.6" x2="1285.09" y2="1050.21" stroke="#e8c0aa" stroke-width="1.95" opacity="0.85"/>
<line x1="1285.09" y1="1050.21" x2="1303.2" y2="1040.2" stroke="#ffffff" stroke-width="1.95" opacity="0.85"/>
<line x1="1464.5" y1="1062.6" x2="1424" y2="1040.2" stroke="#a66a50" stroke-width="6.5"/>
<line x1="1442.11" y1="1050.21" x2="1424" y2="1040.2" stroke="#eec2c2" stroke-width="6.5"/>
<line x1="1464.5" y1="1062.6" x2="1442.11" y2="1050.21" stroke="#e8c0aa" stroke-width="1.95" opacity="0.85"/>
<line x1="1442.11" y1="1050.21" x2="1424" y2="1040.2" stroke="#ffffff" stroke-width="1.95" opacity="0.85"/>
<circle cx="966" cy="768.2" r="12.4" fill="url(#vC)"/>
<circle cx="1162" cy="768.2" r="12.4" fill="url(#vC)"/>
<circle cx="1261.7" cy="767.2" r="12.4" fill="url(#vC)"/>
<circle cx="1465.5" cy="767.2" r="12.4" fill="url(#vC)"/>
<circle cx="1212" cy="735.2" r="12.4" fill="url(#vC)"/>
<circle cx="1212" cy="673.2" r="12.4" fill="url(#vC)"/>
<circle cx="1515.1" cy="735.1" r="12.4" fill="url(#vC)"/>
<circle cx="1515.1" cy="673.3" r="12.4" fill="url(#vC)"/>
<circle cx="967.5" cy="643.2" r="12.4" fill="url(#vC)"/>
<circle cx="1160.5" cy="643.2" r="12.4" fill="url(#vC)"/>
<circle cx="1262.7" cy="642.8" r="12.4" fill="url(#vC)"/>
<circle cx="1464.5" cy="642.8" r="12.4" fill="url(#vC)"/>
<circle cx="1007.5" cy="665.7" r="7.5" fill="url(#vH)"/>
<circle cx="1120.5" cy="665.7" r="7.5" fill="url(#vH)"/>
<circle cx="1303.2" cy="665.2" r="7.5" fill="url(#vH)"/>
<circle cx="1424" cy="665.2" r="7.5" fill="url(#vH)"/>
<circle cx="1005.5" cy="797.2" r="11.5" fill="url(#vN)"/>
<circle cx="1122.5" cy="797.2" r="11.5" fill="url(#vN)"/>
<circle cx="1302.2" cy="795.7" r="11.5" fill="url(#vN)"/>
<circle cx="1425" cy="795.7" r="11.5" fill="url(#vN)"/>
<circle cx="966" cy="937.2" r="12.4" fill="url(#vC)"/>
<circle cx="1162" cy="937.2" r="12.4" fill="url(#vC)"/>
<circle cx="1261.7" cy="938.2" r="12.4" fill="url(#vC)"/>
<circle cx="1465.5" cy="938.2" r="12.4" fill="url(#vC)"/>
<circle cx="1212" cy="970.2" r="12.4" fill="url(#vC)"/>
<circle cx="1212" cy="1032.2" r="12.4" fill="url(#vC)"/>
<circle cx="1515.1" cy="970.3" r="12.4" fill="url(#vC)"/>
<circle cx="1515.1" cy="1032.1" r="12.4" fill="url(#vC)"/>
<circle cx="967.5" cy="1062.2" r="12.4" fill="url(#vC)"/>
<circle cx="1160.5" cy="1062.2" r="12.4" fill="url(#vC)"/>
<circle cx="1262.7" cy="1062.6" r="12.4" fill="url(#vC)"/>
<circle cx="1464.5" cy="1062.6" r="12.4" fill="url(#vC)"/>
<circle cx="1007.5" cy="1039.7" r="7.5" fill="url(#vH)"/>
<circle cx="1120.5" cy="1039.7" r="7.5" fill="url(#vH)"/>
<circle cx="1303.2" cy="1040.2" r="7.5" fill="url(#vH)"/>
<circle cx="1424" cy="1040.2" r="7.5" fill="url(#vH)"/>
<circle cx="1005.5" cy="908.2" r="11.5" fill="url(#vN)"/>
<circle cx="1122.5" cy="908.2" r="11.5" fill="url(#vN)"/>
<circle cx="1302.2" cy="909.7" r="11.5" fill="url(#vN)"/>
<circle cx="1425" cy="909.7" r="11.5" fill="url(#vN)"/>
<circle cx="1064" cy="852.3" r="22" fill="url(#vM)"/>
<circle cx="1363.6" cy="852.6" r="22" fill="url(#vM)"/>
<line x1="1063.6" y1="852" x2="983.7" y2="894.2" stroke="#1a90d8" stroke-width="7"/>
<line x1="1027.41" y1="871.12" x2="983.7" y2="894.2" stroke="#ee8c52" stroke-width="7"/>
<line x1="1063.6" y1="852" x2="1027.41" y2="871.12" stroke="#80c8f0" stroke-width="2.1" opacity="0.85"/>
<line x1="1027.41" y1="871.12" x2="983.7" y2="894.2" stroke="#f8c8a0" stroke-width="2.1" opacity="0.85"/>
<line x1="1063.6" y1="852" x2="1141.6" y2="897.2" stroke="#1a90d8" stroke-width="7"/>
<line x1="1098.92" y1="872.47" x2="1141.6" y2="897.2" stroke="#ee8c52" stroke-width="7"/>
<line x1="1063.6" y1="852" x2="1098.92" y2="872.47" stroke="#80c8f0" stroke-width="2.1" opacity="0.85"/>
<line x1="1098.92" y1="872.47" x2="1141.6" y2="897.2" stroke="#f8c8a0" stroke-width="2.1" opacity="0.85"/>
<circle cx="1063.6" cy="852" r="17.5" fill="url(#vL)"/>
<circle cx="983.7" cy="894.2" r="25.8" fill="url(#vS)"/>
<circle cx="1141.6" cy="897.2" r="26" fill="url(#vO)"/>
<text x="1141.6" y="909.2" font-size="42" fill="#000" text-anchor="middle">0</text>
<circle cx="1180.8" cy="853" r="26" fill="url(#vO)"/>
<text x="1180.8" y="865" font-size="42" fill="#000" text-anchor="middle">1</text>
<circle cx="1260.6" cy="849.4" r="26" fill="url(#vO)"/>
<text x="1260.6" y="861.4" font-size="42" fill="#000" text-anchor="middle">2</text>
<circle cx="1313.2" cy="793.6" r="26" fill="url(#vO)"/>
<text x="1313.2" y="805.6" font-size="42" fill="#000" text-anchor="middle">3</text>
<circle cx="1365" cy="754.4" r="26" fill="url(#vO)"/>
<text x="1365" y="766.4" font-size="42" fill="#000" text-anchor="middle">4</text>
<text x="1364.3" y="912.5" font-size="42.5" fill="#00a850" text-anchor="middle">V</text>
<line x1="968" y1="1233.5" x2="1005.2" y2="1220.4" stroke="#a66a50" stroke-width="7"/>
<line x1="987.02" y1="1226.8" x2="1005.2" y2="1220.4" stroke="#2a2ae0" stroke-width="7"/>
<line x1="968" y1="1233.5" x2="987.02" y2="1226.8" stroke="#e8c0aa" stroke-width="2.1" opacity="0.85"/>
<line x1="987.02" y1="1226.8" x2="1005.2" y2="1220.4" stroke="#8888ff" stroke-width="2.1" opacity="0.85"/>
<line x1="1005.2" y1="1220.4" x2="1064" y2="1209.4" stroke="#2a2ae0" stroke-width="8"/>
<line x1="1029.44" y1="1215.87" x2="1064" y2="1209.4" stroke="#e83c24" stroke-width="8"/>
<line x1="1005.2" y1="1220.4" x2="1029.44" y2="1215.87" stroke="#8888ff" stroke-width="2.4" opacity="0.85"/>
<line x1="1029.44" y1="1215.87" x2="1064" y2="1209.4" stroke="#ff9a86" stroke-width="2.4" opacity="0.85"/>
<line x1="1064" y1="1209.4" x2="1124.6" y2="1220.4" stroke="#e83c24" stroke-width="8"/>
<line x1="1099.47" y1="1215.84" x2="1124.6" y2="1220.4" stroke="#2a2ae0" stroke-width="8"/>
<line x1="1064" y1="1209.4" x2="1099.47" y2="1215.84" stroke="#ff9a86" stroke-width="2.4" opacity="0.85"/>
<line x1="1099.47" y1="1215.84" x2="1124.6" y2="1220.4" stroke="#8888ff" stroke-width="2.4" opacity="0.85"/>
<line x1="1124.6" y1="1220.4" x2="1163.7" y2="1224.5" stroke="#2a2ae0" stroke-width="7"/>
<line x1="1143.7" y1="1222.4" x2="1163.7" y2="1224.5" stroke="#a66a50" stroke-width="7"/>
<line x1="1124.6" y1="1220.4" x2="1143.7" y2="1222.4" stroke="#8888ff" stroke-width="2.1" opacity="0.85"/>
<line x1="1143.7" y1="1222.4" x2="1163.7" y2="1224.5" stroke="#e8c0aa" stroke-width="2.1" opacity="0.85"/>
<line x1="964" y1="1225.5" x2="1005" y2="1222" stroke="#7a5238" stroke-width="8"/>
<line x1="1007.2" y1="1233.5" x2="968" y2="1233.5" stroke="#eec2c2" stroke-width="7"/>
<line x1="990.05" y1="1233.5" x2="968" y2="1233.5" stroke="#a66a50" stroke-width="7"/>
<line x1="1007.2" y1="1233.5" x2="990.05" y2="1233.5" stroke="#ffffff" stroke-width="2.1" opacity="0.85"/>
<line x1="990.05" y1="1233.5" x2="968" y2="1233.5" stroke="#e8c0aa" stroke-width="2.1" opacity="0.85"/>
<line x1="1121.6" y1="1233.5" x2="1161.7" y2="1233.5" stroke="#eec2c2" stroke-width="7"/>
<line x1="1139.2" y1="1233.5" x2="1161.7" y2="1233.5" stroke="#a66a50" stroke-width="7"/>
<line x1="1121.6" y1="1233.5" x2="1139.2" y2="1233.5" stroke="#ffffff" stroke-width="2.1" opacity="0.85"/>
<line x1="1139.2" y1="1233.5" x2="1161.7" y2="1233.5" stroke="#e8c0aa" stroke-width="2.1" opacity="0.85"/>
<line x1="1161.7" y1="1233.5" x2="1516.4" y2="1233.5" stroke="#7a5238" stroke-width="9"/>
<line x1="1262.7" y1="1233.5" x2="1302.6" y2="1234.5" stroke="#a66a50" stroke-width="9"/>
<line x1="1283.1" y1="1234.01" x2="1302.6" y2="1234.5" stroke="#2a2ae0" stroke-width="9"/>
<line x1="1262.7" y1="1233.5" x2="1283.1" y2="1234.01" stroke="#e8c0aa" stroke-width="2.7" opacity="0.85"/>
<line x1="1283.1" y1="1234.01" x2="1302.6" y2="1234.5" stroke="#8888ff" stroke-width="2.7" opacity="0.85"/>
<line x1="1302.6" y1="1234.5" x2="1364" y2="1235.1" stroke="#2a2ae0" stroke-width="9"/>
<line x1="1328.05" y1="1234.75" x2="1364" y2="1235.1" stroke="#e83c24" stroke-width="9"/>
<line x1="1302.6" y1="1234.5" x2="1328.05" y2="1234.75" stroke="#8888ff" stroke-width="2.7" opacity="0.85"/>
<line x1="1328.05" y1="1234.75" x2="1364" y2="1235.1" stroke="#ff9a86" stroke-width="2.7" opacity="0.85"/>
<line x1="1364" y1="1235.1" x2="1426" y2="1234.5" stroke="#e83c24" stroke-width="9"/>
<line x1="1400.25" y1="1234.75" x2="1426" y2="1234.5" stroke="#2a2ae0" stroke-width="9"/>
<line x1="1364" y1="1235.1" x2="1400.25" y2="1234.75" stroke="#ff9a86" stroke-width="2.7" opacity="0.85"/>
<line x1="1400.25" y1="1234.75" x2="1426" y2="1234.5" stroke="#8888ff" stroke-width="2.7" opacity="0.85"/>
<line x1="1426" y1="1234.5" x2="1464.9" y2="1233.5" stroke="#2a2ae0" stroke-width="9"/>
<line x1="1445" y1="1234.01" x2="1464.9" y2="1233.5" stroke="#a66a50" stroke-width="9"/>
<line x1="1426" y1="1234.5" x2="1445" y2="1234.01" stroke="#8888ff" stroke-width="2.7" opacity="0.85"/>
<line x1="1445" y1="1234.01" x2="1464.9" y2="1233.5" stroke="#e8c0aa" stroke-width="2.7" opacity="0.85"/>
<line x1="983.1" y1="1140.2" x2="1063.4" y2="1113.7" stroke="#ee8c52" stroke-width="8"/>
<line x1="1027.29" y1="1125.62" x2="1063.4" y2="1113.7" stroke="#1a90d8" stroke-width="8"/>
<line x1="983.1" y1="1140.2" x2="1027.29" y2="1125.62" stroke="#f8c8a0" stroke-width="2.4" opacity="0.85"/>
<line x1="1027.29" y1="1125.62" x2="1063.4" y2="1113.7" stroke="#80c8f0" stroke-width="2.4" opacity="0.85"/>
<line x1="1063.4" y1="1113.7" x2="1141.6" y2="1137.2" stroke="#1a90d8" stroke-width="8"/>
<line x1="1098.43" y1="1124.23" x2="1141.6" y2="1137.2" stroke="#ee8c52" stroke-width="8"/>
<line x1="1063.4" y1="1113.7" x2="1098.43" y2="1124.23" stroke="#80c8f0" stroke-width="2.4" opacity="0.85"/>
<line x1="1098.43" y1="1124.23" x2="1141.6" y2="1137.2" stroke="#f8c8a0" stroke-width="2.4" opacity="0.85"/>
<line x1="1063.4" y1="1113.7" x2="1064" y2="1209.4" stroke="#1a90d8" stroke-width="8"/>
<line x1="1063.69" y1="1159.3" x2="1064" y2="1209.4" stroke="#e83c24" stroke-width="8"/>
<line x1="1063.4" y1="1113.7" x2="1063.69" y2="1159.3" stroke="#80c8f0" stroke-width="2.4" opacity="0.85"/>
<line x1="1063.69" y1="1159.3" x2="1064" y2="1209.4" stroke="#ff9a86" stroke-width="2.4" opacity="0.85"/>
<line x1="983.1" y1="1140.2" x2="1005.2" y2="1220.4" stroke="#ee8c52" stroke-width="8"/>
<line x1="996.08" y1="1187.29" x2="1005.2" y2="1220.4" stroke="#2a2ae0" stroke-width="8"/>
<line x1="983.1" y1="1140.2" x2="996.08" y2="1187.29" stroke="#f8c8a0" stroke-width="2.4" opacity="0.85"/>
<line x1="996.08" y1="1187.29" x2="1005.2" y2="1220.4" stroke="#8888ff" stroke-width="2.4" opacity="0.85"/>
<line x1="1141.6" y1="1137.2" x2="1124.6" y2="1220.4" stroke="#ee8c52" stroke-width="8"/>
<line x1="1131.65" y1="1185.9" x2="1124.6" y2="1220.4" stroke="#2a2ae0" stroke-width="8"/>
<line x1="1141.6" y1="1137.2" x2="1131.65" y2="1185.9" stroke="#f8c8a0" stroke-width="2.4" opacity="0.85"/>
<line x1="1131.65" y1="1185.9" x2="1124.6" y2="1220.4" stroke="#8888ff" stroke-width="2.4" opacity="0.85"/>
<circle cx="964" cy="1225.5" r="13" fill="url(#vC)"/>
<circle cx="968" cy="1233.5" r="13" fill="url(#vC)"/>
<circle cx="1005.2" cy="1220.4" r="12" fill="url(#vN)"/>
<circle cx="1007.2" cy="1233.5" r="7.5" fill="url(#vH)"/>
<circle cx="1124.6" cy="1220.4" r="12" fill="url(#vN)"/>
<circle cx="1121.6" cy="1233.5" r="7.5" fill="url(#vH)"/>
<circle cx="1163.7" cy="1224.5" r="13" fill="url(#vC)"/>
<circle cx="1161.7" cy="1233.5" r="13" fill="url(#vC)"/>
<circle cx="1211.9" cy="1232.5" r="13" fill="url(#vC)"/>
<circle cx="1262.7" cy="1233.5" r="13" fill="url(#vC)"/>
<circle cx="1302.6" cy="1234.5" r="12" fill="url(#vN)"/>
<circle cx="1302.6" cy="1234.5" r="7.5" fill="url(#vH)"/>
<circle cx="1426" cy="1234.5" r="12" fill="url(#vN)"/>
<circle cx="1426" cy="1234.5" r="7.5" fill="url(#vH)"/>
<circle cx="1464.9" cy="1233.5" r="13" fill="url(#vC)"/>
<circle cx="1516.4" cy="1233.5" r="13" fill="url(#vC)"/>
<circle cx="1064" cy="1209.4" r="21.6" fill="url(#vM)"/>
<circle cx="983.1" cy="1140.2" r="25.8" fill="url(#vS)"/>
<circle cx="1063.4" cy="1113.7" r="17" fill="url(#vL)"/>
<circle cx="1141.6" cy="1137.2" r="26" fill="url(#vO)"/>
<text x="1141.6" y="1149.2" font-size="42" fill="#000" text-anchor="middle">0</text>
<circle cx="1180.8" cy="1174.3" r="26" fill="url(#vO)"/>
<text x="1180.8" y="1186.3" font-size="42" fill="#000" text-anchor="middle">1</text>
<circle cx="1261" cy="1181.9" r="26" fill="url(#vO)"/>
<text x="1261" y="1193.9" font-size="42" fill="#000" text-anchor="middle">2</text>
<circle cx="1314.6" cy="1156.7" r="26" fill="url(#vO)"/>
<text x="1314.6" y="1168.7" font-size="42" fill="#000" text-anchor="middle">3</text>
<circle cx="1365.5" cy="1187.6" r="26" fill="url(#vO)"/>
<text x="1365.5" y="1199.6" font-size="42" fill="#000" text-anchor="middle">4</text>
<circle cx="1364" cy="1235.1" r="21.5" fill="url(#vM)"/>
<line x1="1063.6" y1="1489.7" x2="1001.6" y2="1430.6" stroke="#e83c24" stroke-width="7"/>
<line x1="1028.8" y1="1456.53" x2="1001.6" y2="1430.6" stroke="#2a2ae0" stroke-width="7"/>
<line x1="1063.6" y1="1489.7" x2="1028.8" y2="1456.53" stroke="#ff9a86" stroke-width="2.1" opacity="0.85"/>
<line x1="1028.8" y1="1456.53" x2="1001.6" y2="1430.6" stroke="#8888ff" stroke-width="2.1" opacity="0.85"/>
<line x1="1063.6" y1="1489.7" x2="1125.6" y2="1430.6" stroke="#e83c24" stroke-width="7"/>
<line x1="1098.4" y1="1456.53" x2="1125.6" y2="1430.6" stroke="#2a2ae0" stroke-width="7"/>
<line x1="1063.6" y1="1489.7" x2="1098.4" y2="1456.53" stroke="#ff9a86" stroke-width="2.1" opacity="0.85"/>
<line x1="1098.4" y1="1456.53" x2="1125.6" y2="1430.6" stroke="#8888ff" stroke-width="2.1" opacity="0.85"/>
<line x1="1371.6" y1="1489.9" x2="1309.4" y2="1430.6" stroke="#e83c24" stroke-width="7"/>
<line x1="1336.7" y1="1456.63" x2="1309.4" y2="1430.6" stroke="#2a2ae0" stroke-width="7"/>
<line x1="1371.6" y1="1489.9" x2="1336.7" y2="1456.63" stroke="#ff9a86" stroke-width="2.1" opacity="0.85"/>
<line x1="1336.7" y1="1456.63" x2="1309.4" y2="1430.6" stroke="#8888ff" stroke-width="2.1" opacity="0.85"/>
<line x1="1371.6" y1="1489.9" x2="1433.8" y2="1430.6" stroke="#e83c24" stroke-width="7"/>
<line x1="1406.5" y1="1456.63" x2="1433.8" y2="1430.6" stroke="#2a2ae0" stroke-width="7"/>
<line x1="1371.6" y1="1489.9" x2="1406.5" y2="1456.63" stroke="#ff9a86" stroke-width="2.1" opacity="0.85"/>
<line x1="1406.5" y1="1456.63" x2="1433.8" y2="1430.6" stroke="#8888ff" stroke-width="2.1" opacity="0.85"/>
<line x1="1001.6" y1="1430.6" x2="959.6" y2="1399.7" stroke="#2a2ae0" stroke-width="6.5"/>
<line x1="980.96" y1="1415.42" x2="959.6" y2="1399.7" stroke="#a66a50" stroke-width="6.5"/>
<line x1="1001.6" y1="1430.6" x2="980.96" y2="1415.42" stroke="#8888ff" stroke-width="1.95" opacity="0.85"/>
<line x1="980.96" y1="1415.42" x2="959.6" y2="1399.7" stroke="#e8c0aa" stroke-width="1.95" opacity="0.85"/>
<line x1="1125.6" y1="1430.6" x2="1167.6" y2="1399.7" stroke="#2a2ae0" stroke-width="6.5"/>
<line x1="1146.24" y1="1415.42" x2="1167.6" y2="1399.7" stroke="#a66a50" stroke-width="6.5"/>
<line x1="1125.6" y1="1430.6" x2="1146.24" y2="1415.42" stroke="#8888ff" stroke-width="1.95" opacity="0.85"/>
<line x1="1146.24" y1="1415.42" x2="1167.6" y2="1399.7" stroke="#e8c0aa" stroke-width="1.95" opacity="0.85"/>
<line x1="1309.4" y1="1430.6" x2="1267.7" y2="1399.7" stroke="#2a2ae0" stroke-width="6.5"/>
<line x1="1288.91" y1="1415.42" x2="1267.7" y2="1399.7" stroke="#a66a50" stroke-width="6.5"/>
<line x1="1309.4" y1="1430.6" x2="1288.91" y2="1415.42" stroke="#8888ff" stroke-width="1.95" opacity="0.85"/>
<line x1="1288.91" y1="1415.42" x2="1267.7" y2="1399.7" stroke="#e8c0aa" stroke-width="1.95" opacity="0.85"/>
<line x1="1433.8" y1="1430.6" x2="1475.5" y2="1399.7" stroke="#2a2ae0" stroke-width="6.5"/>
<line x1="1454.29" y1="1415.42" x2="1475.5" y2="1399.7" stroke="#a66a50" stroke-width="6.5"/>
<line x1="1433.8" y1="1430.6" x2="1454.29" y2="1415.42" stroke="#8888ff" stroke-width="1.95" opacity="0.85"/>
<line x1="1454.29" y1="1415.42" x2="1475.5" y2="1399.7" stroke="#e8c0aa" stroke-width="1.95" opacity="0.85"/>
<line x1="1167.6" y1="1399.7" x2="1217.1" y2="1367.1" stroke="#a66a50" stroke-width="6.5"/>
<line x1="1167.6" y1="1399.7" x2="1217.1" y2="1367.1" stroke="#e8c0aa" stroke-width="1.95" opacity="0.85"/>
<line x1="1267.7" y1="1399.7" x2="1217.1" y2="1367.1" stroke="#a66a50" stroke-width="6.5"/>
<line x1="1267.7" y1="1399.7" x2="1217.1" y2="1367.1" stroke="#e8c0aa" stroke-width="1.95" opacity="0.85"/>
<line x1="1475.5" y1="1399.7" x2="1526.1" y2="1367.1" stroke="#a66a50" stroke-width="6.5"/>
<line x1="1475.5" y1="1399.7" x2="1526.1" y2="1367.1" stroke="#e8c0aa" stroke-width="1.95" opacity="0.85"/>
<line x1="1217.1" y1="1367.1" x2="1217.1" y2="1303.5" stroke="#a66a50" stroke-width="6.5"/>
<line x1="1217.1" y1="1367.1" x2="1217.1" y2="1303.5" stroke="#e8c0aa" stroke-width="1.95" opacity="0.85"/>
<line x1="1526.1" y1="1367.1" x2="1526.1" y2="1303.5" stroke="#a66a50" stroke-width="6.5"/>
<line x1="1526.1" y1="1367.1" x2="1526.1" y2="1303.5" stroke="#e8c0aa" stroke-width="1.95" opacity="0.85"/>
<line x1="1217.1" y1="1303.5" x2="1165.9" y2="1272.7" stroke="#a66a50" stroke-width="6.5"/>
<line x1="1217.1" y1="1303.5" x2="1165.9" y2="1272.7" stroke="#e8c0aa" stroke-width="1.95" opacity="0.85"/>
<line x1="1217.1" y1="1303.5" x2="1269.3" y2="1272.7" stroke="#a66a50" stroke-width="6.5"/>
<line x1="1217.1" y1="1303.5" x2="1269.3" y2="1272.7" stroke="#e8c0aa" stroke-width="1.95" opacity="0.85"/>
<line x1="1526.1" y1="1303.5" x2="1473.9" y2="1272.7" stroke="#a66a50" stroke-width="6.5"/>
<line x1="1526.1" y1="1303.5" x2="1473.9" y2="1272.7" stroke="#e8c0aa" stroke-width="1.95" opacity="0.85"/>
<line x1="961.3" y1="1272.7" x2="1002.8" y2="1296" stroke="#a66a50" stroke-width="6.5"/>
<line x1="984.19" y1="1285.55" x2="1002.8" y2="1296" stroke="#eec2c2" stroke-width="6.5"/>
<line x1="961.3" y1="1272.7" x2="984.19" y2="1285.55" stroke="#e8c0aa" stroke-width="1.95" opacity="0.85"/>
<line x1="984.19" y1="1285.55" x2="1002.8" y2="1296" stroke="#ffffff" stroke-width="1.95" opacity="0.85"/>
<line x1="1165.9" y1="1272.7" x2="1124.4" y2="1296" stroke="#a66a50" stroke-width="6.5"/>
<line x1="1143.01" y1="1285.55" x2="1124.4" y2="1296" stroke="#eec2c2" stroke-width="6.5"/>
<line x1="1165.9" y1="1272.7" x2="1143.01" y2="1285.55" stroke="#e8c0aa" stroke-width="1.95" opacity="0.85"/>
<line x1="1143.01" y1="1285.55" x2="1124.4" y2="1296" stroke="#ffffff" stroke-width="1.95" opacity="0.85"/>
<line x1="1269.3" y1="1272.7" x2="1310.4" y2="1296" stroke="#a66a50" stroke-width="6.5"/>
<line x1="1291.98" y1="1285.56" x2="1310.4" y2="1296" stroke="#eec2c2" stroke-width="6.5"/>
<line x1="1269.3" y1="1272.7" x2="1291.98" y2="1285.56" stroke="#e8c0aa" stroke-width="1.95" opacity="0.85"/>
<line x1="1291.98" y1="1285.56" x2="1310.4" y2="1296" stroke="#ffffff" stroke-width="1.95" opacity="0.85"/>
<line x1="1473.9" y1="1272.7" x2="1432.8" y2="1296" stroke="#a66a50" stroke-width="6.5"/>
<line x1="1451.22" y1="1285.56" x2="1432.8" y2="1296" stroke="#eec2c2" stroke-width="6.5"/>
<line x1="1473.9" y1="1272.7" x2="1451.22" y2="1285.56" stroke="#e8c0aa" stroke-width="1.95" opacity="0.85"/>
<line x1="1451.22" y1="1285.56" x2="1432.8" y2="1296" stroke="#ffffff" stroke-width="1.95" opacity="0.85"/>
<line x1="1063.6" y1="1489.7" x2="1001.6" y2="1548.8" stroke="#e83c24" stroke-width="7"/>
<line x1="1028.8" y1="1522.87" x2="1001.6" y2="1548.8" stroke="#2a2ae0" stroke-width="7"/>
<line x1="1063.6" y1="1489.7" x2="1028.8" y2="1522.87" stroke="#ff9a86" stroke-width="2.1" opacity="0.85"/>
<line x1="1028.8" y1="1522.87" x2="1001.6" y2="1548.8" stroke="#8888ff" stroke-width="2.1" opacity="0.85"/>
<line x1="1063.6" y1="1489.7" x2="1125.6" y2="1548.8" stroke="#e83c24" stroke-width="7"/>
<line x1="1098.4" y1="1522.87" x2="1125.6" y2="1548.8" stroke="#2a2ae0" stroke-width="7"/>
<line x1="1063.6" y1="1489.7" x2="1098.4" y2="1522.87" stroke="#ff9a86" stroke-width="2.1" opacity="0.85"/>
<line x1="1098.4" y1="1522.87" x2="1125.6" y2="1548.8" stroke="#8888ff" stroke-width="2.1" opacity="0.85"/>
<line x1="1371.6" y1="1489.9" x2="1309.4" y2="1548.8" stroke="#e83c24" stroke-width="7"/>
<line x1="1336.69" y1="1522.96" x2="1309.4" y2="1548.8" stroke="#2a2ae0" stroke-width="7"/>
<line x1="1371.6" y1="1489.9" x2="1336.69" y2="1522.96" stroke="#ff9a86" stroke-width="2.1" opacity="0.85"/>
<line x1="1336.69" y1="1522.96" x2="1309.4" y2="1548.8" stroke="#8888ff" stroke-width="2.1" opacity="0.85"/>
<line x1="1371.6" y1="1489.9" x2="1433.8" y2="1548.8" stroke="#e83c24" stroke-width="7"/>
<line x1="1406.51" y1="1522.96" x2="1433.8" y2="1548.8" stroke="#2a2ae0" stroke-width="7"/>
<line x1="1371.6" y1="1489.9" x2="1406.51" y2="1522.96" stroke="#ff9a86" stroke-width="2.1" opacity="0.85"/>
<line x1="1406.51" y1="1522.96" x2="1433.8" y2="1548.8" stroke="#8888ff" stroke-width="2.1" opacity="0.85"/>
<line x1="1001.6" y1="1548.8" x2="959.6" y2="1579.7" stroke="#2a2ae0" stroke-width="6.5"/>
<line x1="980.96" y1="1563.98" x2="959.6" y2="1579.7" stroke="#a66a50" stroke-width="6.5"/>
<line x1="1001.6" y1="1548.8" x2="980.96" y2="1563.98" stroke="#8888ff" stroke-width="1.95" opacity="0.85"/>
<line x1="980.96" y1="1563.98" x2="959.6" y2="1579.7" stroke="#e8c0aa" stroke-width="1.95" opacity="0.85"/>
<line x1="1125.6" y1="1548.8" x2="1167.6" y2="1579.7" stroke="#2a2ae0" stroke-width="6.5"/>
<line x1="1146.24" y1="1563.98" x2="1167.6" y2="1579.7" stroke="#a66a50" stroke-width="6.5"/>
<line x1="1125.6" y1="1548.8" x2="1146.24" y2="1563.98" stroke="#8888ff" stroke-width="1.95" opacity="0.85"/>
<line x1="1146.24" y1="1563.98" x2="1167.6" y2="1579.7" stroke="#e8c0aa" stroke-width="1.95" opacity="0.85"/>
<line x1="1309.4" y1="1548.8" x2="1267.7" y2="1579.7" stroke="#2a2ae0" stroke-width="6.5"/>
<line x1="1288.91" y1="1563.98" x2="1267.7" y2="1579.7" stroke="#a66a50" stroke-width="6.5"/>
<line x1="1309.4" y1="1548.8" x2="1288.91" y2="1563.98" stroke="#8888ff" stroke-width="1.95" opacity="0.85"/>
<line x1="1288.91" y1="1563.98" x2="1267.7" y2="1579.7" stroke="#e8c0aa" stroke-width="1.95" opacity="0.85"/>
<line x1="1433.8" y1="1548.8" x2="1475.5" y2="1579.7" stroke="#2a2ae0" stroke-width="6.5"/>
<line x1="1454.29" y1="1563.98" x2="1475.5" y2="1579.7" stroke="#a66a50" stroke-width="6.5"/>
<line x1="1433.8" y1="1548.8" x2="1454.29" y2="1563.98" stroke="#8888ff" stroke-width="1.95" opacity="0.85"/>
<line x1="1454.29" y1="1563.98" x2="1475.5" y2="1579.7" stroke="#e8c0aa" stroke-width="1.95" opacity="0.85"/>
<line x1="1167.6" y1="1579.7" x2="1217.1" y2="1612.3" stroke="#a66a50" stroke-width="6.5"/>
<line x1="1167.6" y1="1579.7" x2="1217.1" y2="1612.3" stroke="#e8c0aa" stroke-width="1.95" opacity="0.85"/>
<line x1="1267.7" y1="1579.7" x2="1217.1" y2="1612.3" stroke="#a66a50" stroke-width="6.5"/>
<line x1="1267.7" y1="1579.7" x2="1217.1" y2="1612.3" stroke="#e8c0aa" stroke-width="1.95" opacity="0.85"/>
<line x1="1475.5" y1="1579.7" x2="1526.1" y2="1612.3" stroke="#a66a50" stroke-width="6.5"/>
<line x1="1475.5" y1="1579.7" x2="1526.1" y2="1612.3" stroke="#e8c0aa" stroke-width="1.95" opacity="0.85"/>
<line x1="1217.1" y1="1612.3" x2="1217.1" y2="1675.9" stroke="#a66a50" stroke-width="6.5"/>
<line x1="1217.1" y1="1612.3" x2="1217.1" y2="1675.9" stroke="#e8c0aa" stroke-width="1.95" opacity="0.85"/>
<line x1="1526.1" y1="1612.3" x2="1526.1" y2="1675.9" stroke="#a66a50" stroke-width="6.5"/>
<line x1="1526.1" y1="1612.3" x2="1526.1" y2="1675.9" stroke="#e8c0aa" stroke-width="1.95" opacity="0.85"/>
<line x1="1217.1" y1="1675.9" x2="1165.9" y2="1706.7" stroke="#a66a50" stroke-width="6.5"/>
<line x1="1217.1" y1="1675.9" x2="1165.9" y2="1706.7" stroke="#e8c0aa" stroke-width="1.95" opacity="0.85"/>
<line x1="1217.1" y1="1675.9" x2="1269.3" y2="1706.7" stroke="#a66a50" stroke-width="6.5"/>
<line x1="1217.1" y1="1675.9" x2="1269.3" y2="1706.7" stroke="#e8c0aa" stroke-width="1.95" opacity="0.85"/>
<line x1="1526.1" y1="1675.9" x2="1473.9" y2="1706.7" stroke="#a66a50" stroke-width="6.5"/>
<line x1="1526.1" y1="1675.9" x2="1473.9" y2="1706.7" stroke="#e8c0aa" stroke-width="1.95" opacity="0.85"/>
<line x1="961.3" y1="1706.7" x2="1002.8" y2="1683.4" stroke="#a66a50" stroke-width="6.5"/>
<line x1="984.19" y1="1693.85" x2="1002.8" y2="1683.4" stroke="#eec2c2" stroke-width="6.5"/>
<line x1="961.3" y1="1706.7" x2="984.19" y2="1693.85" stroke="#e8c0aa" stroke-width="1.95" opacity="0.85"/>
<line x1="984.19" y1="1693.85" x2="1002.8" y2="1683.4" stroke="#ffffff" stroke-width="1.95" opacity="0.85"/>
<line x1="1165.9" y1="1706.7" x2="1124.4" y2="1683.4" stroke="#a66a50" stroke-width="6.5"/>
<line x1="1143.01" y1="1693.85" x2="1124.4" y2="1683.4" stroke="#eec2c2" stroke-width="6.5"/>
<line x1="1165.9" y1="1706.7" x2="1143.01" y2="1693.85" stroke="#e8c0aa" stroke-width="1.95" opacity="0.85"/>
<line x1="1143.01" y1="1693.85" x2="1124.4" y2="1683.4" stroke="#ffffff" stroke-width="1.95" opacity="0.85"/>
<line x1="1269.3" y1="1706.7" x2="1310.4" y2="1683.4" stroke="#a66a50" stroke-width="6.5"/>
<line x1="1291.98" y1="1693.84" x2="1310.4" y2="1683.4" stroke="#eec2c2" stroke-width="6.5"/>
<line x1="1269.3" y1="1706.7" x2="1291.98" y2="1693.84" stroke="#e8c0aa" stroke-width="1.95" opacity="0.85"/>
<line x1="1291.98" y1="1693.84" x2="1310.4" y2="1683.4" stroke="#ffffff" stroke-width="1.95" opacity="0.85"/>
<line x1="1473.9" y1="1706.7" x2="1432.8" y2="1683.4" stroke="#a66a50" stroke-width="6.5"/>
<line x1="1451.22" y1="1693.84" x2="1432.8" y2="1683.4" stroke="#eec2c2" stroke-width="6.5"/>
<line x1="1473.9" y1="1706.7" x2="1451.22" y2="1693.84" stroke="#e8c0aa" stroke-width="1.95" opacity="0.85"/>
<line x1="1451.22" y1="1693.84" x2="1432.8" y2="1683.4" stroke="#ffffff" stroke-width="1.95" opacity="0.85"/>
<circle cx="959.6" cy="1399.7" r="12.4" fill="url(#vC)"/>
<circle cx="1167.6" cy="1399.7" r="12.4" fill="url(#vC)"/>
<circle cx="1267.7" cy="1399.7" r="12.4" fill="url(#vC)"/>
<circle cx="1475.5" cy="1399.7" r="12.4" fill="url(#vC)"/>
<circle cx="1217.1" cy="1367.1" r="12.4" fill="url(#vC)"/>
<circle cx="1217.1" cy="1303.5" r="12.4" fill="url(#vC)"/>
<circle cx="1526.1" cy="1367.1" r="12.4" fill="url(#vC)"/>
<circle cx="1526.1" cy="1303.5" r="12.4" fill="url(#vC)"/>
<circle cx="961.3" cy="1272.7" r="12.4" fill="url(#vC)"/>
<circle cx="1165.9" cy="1272.7" r="12.4" fill="url(#vC)"/>
<circle cx="1269.3" cy="1272.7" r="12.4" fill="url(#vC)"/>
<circle cx="1473.9" cy="1272.7" r="12.4" fill="url(#vC)"/>
<circle cx="1002.8" cy="1296" r="7.5" fill="url(#vH)"/>
<circle cx="1124.4" cy="1296" r="7.5" fill="url(#vH)"/>
<circle cx="1310.4" cy="1296" r="7.5" fill="url(#vH)"/>
<circle cx="1432.8" cy="1296" r="7.5" fill="url(#vH)"/>
<circle cx="1001.6" cy="1430.6" r="11.5" fill="url(#vN)"/>
<circle cx="1125.6" cy="1430.6" r="11.5" fill="url(#vN)"/>
<circle cx="1309.4" cy="1430.6" r="11.5" fill="url(#vN)"/>
<circle cx="1433.8" cy="1430.6" r="11.5" fill="url(#vN)"/>
<circle cx="959.6" cy="1579.7" r="12.4" fill="url(#vC)"/>
<circle cx="1167.6" cy="1579.7" r="12.4" fill="url(#vC)"/>
<circle cx="1267.7" cy="1579.7" r="12.4" fill="url(#vC)"/>
<circle cx="1475.5" cy="1579.7" r="12.4" fill="url(#vC)"/>
<circle cx="1217.1" cy="1612.3" r="12.4" fill="url(#vC)"/>
<circle cx="1217.1" cy="1675.9" r="12.4" fill="url(#vC)"/>
<circle cx="1526.1" cy="1612.3" r="12.4" fill="url(#vC)"/>
<circle cx="1526.1" cy="1675.9" r="12.4" fill="url(#vC)"/>
<circle cx="961.3" cy="1706.7" r="12.4" fill="url(#vC)"/>
<circle cx="1165.9" cy="1706.7" r="12.4" fill="url(#vC)"/>
<circle cx="1269.3" cy="1706.7" r="12.4" fill="url(#vC)"/>
<circle cx="1473.9" cy="1706.7" r="12.4" fill="url(#vC)"/>
<circle cx="1002.8" cy="1683.4" r="7.5" fill="url(#vH)"/>
<circle cx="1124.4" cy="1683.4" r="7.5" fill="url(#vH)"/>
<circle cx="1310.4" cy="1683.4" r="7.5" fill="url(#vH)"/>
<circle cx="1432.8" cy="1683.4" r="7.5" fill="url(#vH)"/>
<circle cx="1001.6" cy="1548.8" r="11.5" fill="url(#vN)"/>
<circle cx="1125.6" cy="1548.8" r="11.5" fill="url(#vN)"/>
<circle cx="1309.4" cy="1548.8" r="11.5" fill="url(#vN)"/>
<circle cx="1433.8" cy="1548.8" r="11.5" fill="url(#vN)"/>
<circle cx="1063.6" cy="1489.7" r="22" fill="url(#vM)"/>
<circle cx="1371.6" cy="1489.9" r="22" fill="url(#vM)"/>
<circle cx="1178.9" cy="1490.3" r="26.7" fill="url(#vO)"/>
<text x="1178.9" y="1501.3" font-size="40" fill="#000" text-anchor="middle">0</text>
<circle cx="1260.9" cy="1488.6" r="26.7" fill="url(#vO)"/>
<text x="1260.9" y="1499.6" font-size="40" fill="#000" text-anchor="middle">1</text>
<circle cx="1373" cy="1377.8" r="26.5" fill="url(#vO)"/>
<text x="1373" y="1388.8" font-size="40" fill="#000" text-anchor="middle">4</text>
<circle cx="1358.9" cy="1411.1" r="26.5" fill="url(#vO)"/>
<text x="1358.9" y="1422.1" font-size="40" fill="#000" text-anchor="middle">3</text>
<circle cx="1313.6" cy="1440" r="26.5" fill="url(#vO)"/>
<text x="1313.6" y="1451" font-size="40" fill="#000" text-anchor="middle">2</text>
<text x="1372.5" y="1546.9" font-size="40" fill="#00a850" text-anchor="middle">V</text>
<line x1="960" y1="1865.4" x2="1001.2" y2="1863.4" stroke="#a66a50" stroke-width="9"/>
<line x1="983.05" y1="1864.28" x2="1001.2" y2="1863.4" stroke="#eec2c2" stroke-width="9"/>
<line x1="960" y1="1865.4" x2="983.05" y2="1864.28" stroke="#e8c0aa" stroke-width="2.7" opacity="0.85"/>
<line x1="983.05" y1="1864.28" x2="1001.2" y2="1863.4" stroke="#ffffff" stroke-width="2.7" opacity="0.85"/>
<line x1="1001.2" y1="1863.4" x2="1063.4" y2="1861.4" stroke="#2a2ae0" stroke-width="9"/>
<line x1="1027.05" y1="1862.57" x2="1063.4" y2="1861.4" stroke="#e83c24" stroke-width="9"/>
<line x1="1001.2" y1="1863.4" x2="1027.05" y2="1862.57" stroke="#8888ff" stroke-width="2.7" opacity="0.85"/>
<line x1="1027.05" y1="1862.57" x2="1063.4" y2="1861.4" stroke="#ff9a86" stroke-width="2.7" opacity="0.85"/>
<line x1="1063.4" y1="1861.4" x2="1124.6" y2="1860" stroke="#e83c24" stroke-width="9"/>
<line x1="1099.25" y1="1860.58" x2="1124.6" y2="1860" stroke="#2a2ae0" stroke-width="9"/>
<line x1="1063.4" y1="1861.4" x2="1099.25" y2="1860.58" stroke="#ff9a86" stroke-width="2.7" opacity="0.85"/>
<line x1="1099.25" y1="1860.58" x2="1124.6" y2="1860" stroke="#8888ff" stroke-width="2.7" opacity="0.85"/>
<line x1="1124.6" y1="1860" x2="1165.7" y2="1862.8" stroke="#eec2c2" stroke-width="9"/>
<line x1="1142.71" y1="1861.23" x2="1165.7" y2="1862.8" stroke="#a66a50" stroke-width="9"/>
<line x1="1124.6" y1="1860" x2="1142.71" y2="1861.23" stroke="#ffffff" stroke-width="2.7" opacity="0.85"/>
<line x1="1142.71" y1="1861.23" x2="1165.7" y2="1862.8" stroke="#e8c0aa" stroke-width="2.7" opacity="0.85"/>
<line x1="1165.7" y1="1862.8" x2="1217.9" y2="1862.8" stroke="#7a5238" stroke-width="9"/>
<line x1="1217.9" y1="1862.8" x2="1269.5" y2="1862.6" stroke="#7a5238" stroke-width="9"/>
<line x1="1269.5" y1="1862.6" x2="1308.4" y2="1862.1" stroke="#a66a50" stroke-width="9"/>
<line x1="1291.4" y1="1862.32" x2="1308.4" y2="1862.1" stroke="#eec2c2" stroke-width="9"/>
<line x1="1269.5" y1="1862.6" x2="1291.4" y2="1862.32" stroke="#e8c0aa" stroke-width="2.7" opacity="0.85"/>
<line x1="1291.4" y1="1862.32" x2="1308.4" y2="1862.1" stroke="#ffffff" stroke-width="2.7" opacity="0.85"/>
<line x1="1308.4" y1="1862.1" x2="1371.3" y2="1863.7" stroke="#2a2ae0" stroke-width="9"/>
<line x1="1334.6" y1="1862.77" x2="1371.3" y2="1863.7" stroke="#e83c24" stroke-width="9"/>
<line x1="1308.4" y1="1862.1" x2="1334.6" y2="1862.77" stroke="#8888ff" stroke-width="2.7" opacity="0.85"/>
<line x1="1334.6" y1="1862.77" x2="1371.3" y2="1863.7" stroke="#ff9a86" stroke-width="2.7" opacity="0.85"/>
<line x1="1371.3" y1="1863.7" x2="1433.3" y2="1865" stroke="#e83c24" stroke-width="9"/>
<line x1="1407.55" y1="1864.46" x2="1433.3" y2="1865" stroke="#2a2ae0" stroke-width="9"/>
<line x1="1371.3" y1="1863.7" x2="1407.55" y2="1864.46" stroke="#ff9a86" stroke-width="2.7" opacity="0.85"/>
<line x1="1407.55" y1="1864.46" x2="1433.3" y2="1865" stroke="#8888ff" stroke-width="2.7" opacity="0.85"/>
<line x1="1433.3" y1="1865" x2="1474.6" y2="1865.4" stroke="#eec2c2" stroke-width="9"/>
<line x1="1451.5" y1="1865.18" x2="1474.6" y2="1865.4" stroke="#a66a50" stroke-width="9"/>
<line x1="1433.3" y1="1865" x2="1451.5" y2="1865.18" stroke="#ffffff" stroke-width="2.7" opacity="0.85"/>
<line x1="1451.5" y1="1865.18" x2="1474.6" y2="1865.4" stroke="#e8c0aa" stroke-width="2.7" opacity="0.85"/>
<line x1="1474.6" y1="1865.4" x2="1526.4" y2="1866.1" stroke="#7a5238" stroke-width="9"/>
<circle cx="960" cy="1865.4" r="13" fill="url(#vC)"/>
<circle cx="1001.2" cy="1863.4" r="12" fill="url(#vN)"/>
<circle cx="1002.2" cy="1865.4" r="7.5" fill="url(#vH)"/>
<circle cx="1124.6" cy="1860" r="12" fill="url(#vN)"/>
<circle cx="1125.6" cy="1862" r="7.5" fill="url(#vH)"/>
<circle cx="1165.7" cy="1862.8" r="13" fill="url(#vC)"/>
<circle cx="1217.9" cy="1862.8" r="13" fill="url(#vC)"/>
<circle cx="1269.5" cy="1862.6" r="13" fill="url(#vC)"/>
<circle cx="1308.4" cy="1862.1" r="12" fill="url(#vN)"/>
<circle cx="1309.4" cy="1864.1" r="7.5" fill="url(#vH)"/>
<circle cx="1433.3" cy="1865" r="12" fill="url(#vN)"/>
<circle cx="1434.3" cy="1867" r="7.5" fill="url(#vH)"/>
<circle cx="1474.6" cy="1865.4" r="13" fill="url(#vC)"/>
<circle cx="1526.4" cy="1866.1" r="13" fill="url(#vC)"/>
<circle cx="1178.8" cy="1825.3" r="26.6" fill="url(#vO)"/>
<text x="1178.8" y="1836.3" font-size="40" fill="#000" text-anchor="middle">0</text>
<circle cx="1260.6" cy="1820.1" r="26.6" fill="url(#vO)"/>
<text x="1260.6" y="1831.1" font-size="40" fill="#000" text-anchor="middle">1</text>
<circle cx="1313.1" cy="1778.9" r="26.6" fill="url(#vO)"/>
<text x="1313.1" y="1789.9" font-size="40" fill="#000" text-anchor="middle">2</text>
<circle cx="1372.8" cy="1836.6" r="26.6" fill="url(#vO)"/>
<text x="1372.8" y="1847.6" font-size="40" fill="#000" text-anchor="middle">4</text>
<circle cx="1358.4" cy="1794.2" r="26.6" fill="url(#vO)"/>
<text x="1358.4" y="1805.2" font-size="40" fill="#000" text-anchor="middle">3</text>
<circle cx="1063.4" cy="1861.4" r="22" fill="url(#vM)"/>
<circle cx="1371.3" cy="1863.7" r="22" fill="url(#vM)"/></svg></body></html>
